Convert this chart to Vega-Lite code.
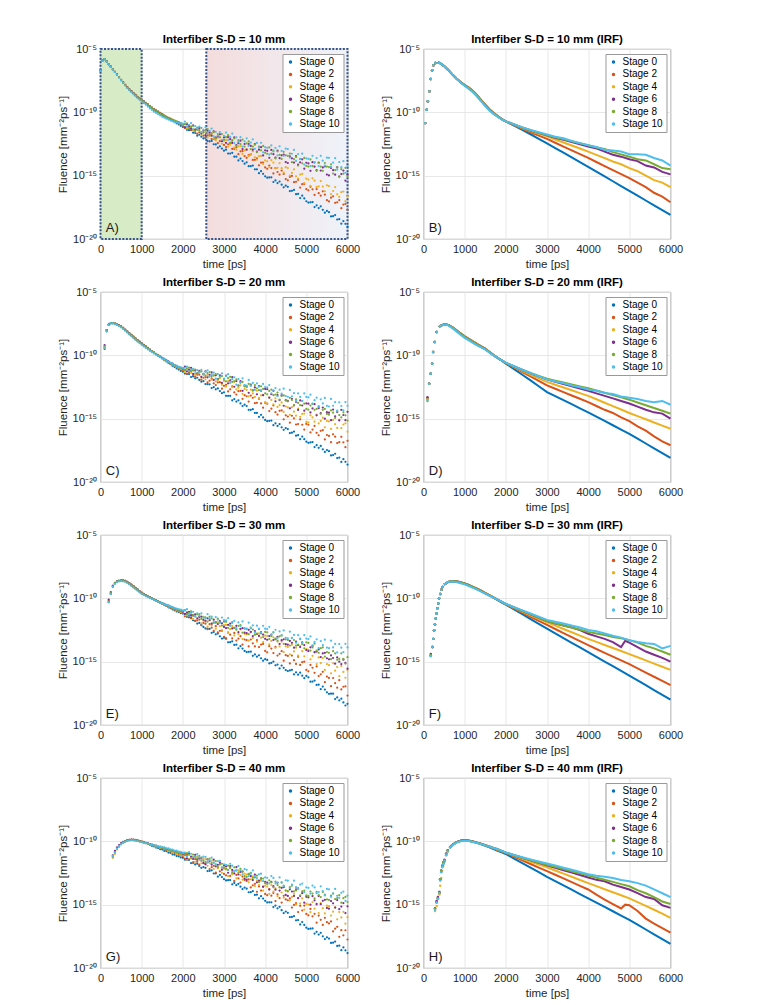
{
"$schema":"https://vega.github.io/schema/vega-lite/v6.json",
"padding":{"left":56.5,"top":33,"right":5,"bottom":5},
"config":{
"font":"Liberation Sans",
"view":{"stroke":"#8a8a8a","strokeWidth":0.8},
"axis":{"domain":false,"ticks":false,"gridColor":"#e2e2e2","gridWidth":0.8,"labelFontSize":11,"labelColor":"#262626","labelPadding":4,"titleFontSize":11.5,"titleFontWeight":"normal","titleColor":"#262626","labelFlush":false,"titlePadding":4},
"title":{"fontSize":11.5,"fontWeight":"bold","color":"#000000","offset":-2.3,"anchor":"middle","frame":"group"},
"legend":{"orient":"top-right","offset":4.5,"padding":3,"rowPadding":2.4,"symbolType":"circle","symbolSize":12,"symbolOffset":0,"labelOffset":4,"labelFontSize":10,"labelColor":"#000000","strokeColor":"#999999","fillColor":"#ffffff","symbolStrokeWidth":0}
},
"datasets":{
"A":[
{"t":0,"s00":-6.7,"s02":-6.72,"s04":-6.7,"s06":-6.68,"s08":-6.7,"s10":-6.72},
{"t":50,"s00":-5.9,"s02":-5.92,"s04":-5.9,"s06":-5.88,"s08":-5.9,"s10":-5.92},
{"t":100,"s00":-5.8,"s02":-5.81,"s04":-5.8,"s06":-5.79,"s08":-5.8,"s10":-5.81},
{"t":150,"s00":-5.98,"s02":-5.98,"s04":-5.99,"s06":-5.98,"s08":-5.98,"s10":-6.0},
{"t":200,"s00":-6.2,"s02":-6.2,"s04":-6.2,"s06":-6.21,"s08":-6.2,"s10":-6.22},
{"t":250,"s00":-6.4,"s02":-6.4,"s04":-6.41,"s06":-6.4,"s08":-6.41,"s10":-6.42},
{"t":300,"s00":-6.6,"s02":-6.6,"s04":-6.6,"s06":-6.61,"s08":-6.61,"s10":-6.63},
{"t":350,"s00":-6.8,"s02":-6.8,"s04":-6.8,"s06":-6.81,"s08":-6.81,"s10":-6.83},
{"t":400,"s00":-7.0,"s02":-7.0,"s04":-7.0,"s06":-7.01,"s08":-7.02,"s10":-7.04},
{"t":450,"s00":-7.22,"s02":-7.22,"s04":-7.22,"s06":-7.23,"s08":-7.24,"s10":-7.26},
{"t":500,"s00":-7.44,"s02":-7.44,"s04":-7.45,"s06":-7.45,"s08":-7.46,"s10":-7.48},
{"t":550,"s00":-7.64,"s02":-7.64,"s04":-7.65,"s06":-7.65,"s08":-7.66,"s10":-7.69},
{"t":600,"s00":-7.84,"s02":-7.84,"s04":-7.85,"s06":-7.85,"s08":-7.86,"s10":-7.89},
{"t":650,"s00":-8.02,"s02":-8.02,"s04":-8.03,"s06":-8.03,"s08":-8.04,"s10":-8.08},
{"t":700,"s00":-8.18,"s02":-8.18,"s04":-8.2,"s06":-8.2,"s08":-8.21,"s10":-8.25},
{"t":750,"s00":-8.33,"s02":-8.33,"s04":-8.35,"s06":-8.35,"s08":-8.36,"s10":-8.41},
{"t":800,"s00":-8.48,"s02":-8.48,"s04":-8.5,"s06":-8.5,"s08":-8.51,"s10":-8.57},
{"t":850,"s00":-8.63,"s02":-8.63,"s04":-8.65,"s06":-8.65,"s08":-8.66,"s10":-8.72},
{"t":900,"s00":-8.77,"s02":-8.77,"s04":-8.79,"s06":-8.8,"s08":-8.8,"s10":-8.87},
{"t":950,"s00":-8.89,"s02":-8.89,"s04":-8.92,"s06":-8.93,"s08":-8.93,"s10":-9.01},
{"t":1000,"s00":-9.0,"s02":-9.0,"s04":-9.05,"s06":-9.05,"s08":-9.05,"s10":-9.15},
{"t":1050,"s00":-9.12,"s02":-9.13,"s04":-9.17,"s06":-9.17,"s08":-9.18,"s10":-9.28},
{"t":1100,"s00":-9.25,"s02":-9.25,"s04":-9.3,"s06":-9.3,"s08":-9.3,"s10":-9.4},
{"t":1150,"s00":-9.37,"s02":-9.38,"s04":-9.42,"s06":-9.43,"s08":-9.42,"s10":-9.55},
{"t":1200,"s00":-9.5,"s02":-9.5,"s04":-9.55,"s06":-9.55,"s08":-9.55,"s10":-9.7},
{"t":1250,"s00":-9.62,"s02":-9.63,"s04":-9.67,"s06":-9.68,"s08":-9.67,"s10":-9.82},
{"t":1300,"s00":-9.75,"s02":-9.75,"s04":-9.8,"s06":-9.8,"s08":-9.8,"s10":-9.95},
{"t":1350,"s00":-9.85,"s02":-9.86,"s04":-9.9,"s06":-9.9,"s08":-9.91,"s10":-10.05},
{"t":1400,"s00":-9.95,"s02":-9.95,"s04":-10.0,"s06":-10.0,"s08":-10.0,"s10":-10.15},
{"t":1450,"s00":-10.05,"s02":-10.06,"s04":-10.1,"s06":-10.1,"s08":-10.1,"s10":-10.25},
{"t":1500,"s00":-10.15,"s02":-10.15,"s04":-10.2,"s06":-10.2,"s08":-10.2,"s10":-10.35},
{"t":1550,"s00":-10.25,"s02":-10.25,"s04":-10.28,"s06":-10.3,"s08":-10.3,"s10":-10.42},
{"t":1600,"s00":-10.35,"s02":-10.35,"s04":-10.35,"s06":-10.4,"s08":-10.4,"s10":-10.5},
{"t":1650,"s00":-10.45,"s02":-10.43,"s04":-10.43,"s06":-10.48,"s08":-10.47,"s10":-10.57},
{"t":1700,"s00":-10.55,"s02":-10.5,"s04":-10.5,"s06":-10.55,"s08":-10.55,"s10":-10.65},
{"t":1750,"s00":-10.66,"s02":-10.6,"s04":-10.58,"s06":-10.62,"s08":-10.6,"s10":-10.7},
{"t":1800,"s00":-10.77,"s02":-10.7,"s04":-10.65,"s06":-10.7,"s08":-10.65,"s10":-10.75},
{"t":1850,"s00":-10.87,"s02":-10.78,"s04":-10.73,"s06":-10.75,"s08":-10.72,"s10":-10.8},
{"t":1900,"s00":-10.96,"s02":-10.87,"s04":-10.82,"s06":-10.8,"s08":-10.8,"s10":-10.85},
{"t":1950,"s00":-11.06,"s02":-10.96,"s04":-10.91,"s06":-10.88,"s08":-10.87,"s10":-10.88},
{"t":2000,"s00":-11.15,"s02":-11.05,"s04":-11.0,"s06":-10.95,"s08":-10.95,"s10":-10.9},
{"t":2050,"s00":-11.18,"s02":-11.24,"s04":-10.95,"s06":-11.19,"s08":-10.94,"s10":-10.74},
{"t":2100,"s00":-11.38,"s02":-11.13,"s04":-11.28,"s06":-10.94,"s08":-10.87,"s10":-11.12},
{"t":2150,"s00":-11.41,"s02":-11.11,"s04":-11.2,"s06":-11.06,"s08":-11.25,"s10":-10.99},
{"t":2200,"s00":-11.4,"s02":-11.39,"s04":-11.08,"s06":-11.26,"s08":-11.15,"s10":-10.86},
{"t":2250,"s00":-11.61,"s02":-11.4,"s04":-11.39,"s06":-11.02,"s08":-11.08,"s10":-11.33},
{"t":2300,"s00":-11.63,"s02":-11.35,"s04":-11.51,"s06":-11.4,"s08":-11.46,"s10":-11.08},
{"t":2350,"s00":-11.84,"s02":-11.69,"s04":-11.37,"s06":-11.34,"s08":-11.21,"s10":-11.31},
{"t":2400,"s00":-11.77,"s02":-11.58,"s04":-11.37,"s06":-11.24,"s08":-11.41,"s10":-11.12},
{"t":2450,"s00":-11.92,"s02":-11.59,"s04":-11.77,"s06":-11.66,"s08":-11.22,"s10":-11.59},
{"t":2500,"s00":-12.06,"s02":-11.84,"s04":-11.62,"s06":-11.44,"s08":-11.57,"s10":-11.37},
{"t":2550,"s00":-12.02,"s02":-11.98,"s04":-11.56,"s06":-11.8,"s08":-11.43,"s10":-11.17},
{"t":2600,"s00":-12.27,"s02":-11.81,"s04":-11.98,"s06":-11.45,"s08":-11.32,"s10":-11.66},
{"t":2650,"s00":-12.29,"s02":-11.76,"s04":-11.85,"s06":-11.59,"s08":-11.82,"s10":-11.47},
{"t":2700,"s00":-12.26,"s02":-12.11,"s04":-11.67,"s06":-11.84,"s08":-11.67,"s10":-11.28},
{"t":2750,"s00":-12.52,"s02":-12.1,"s04":-12.06,"s06":-11.5,"s08":-11.57,"s10":-11.89},
{"t":2800,"s00":-12.53,"s02":-12.01,"s04":-12.2,"s06":-11.99,"s08":-12.06,"s10":-11.54},
{"t":2850,"s00":-12.79,"s02":-12.44,"s04":-11.99,"s06":-11.89,"s08":-11.72,"s10":-11.83},
{"t":2900,"s00":-12.68,"s02":-12.27,"s04":-11.97,"s06":-11.74,"s08":-11.97,"s10":-11.56},
{"t":2950,"s00":-12.86,"s02":-12.26,"s04":-12.48,"s06":-12.28,"s08":-11.71,"s10":-12.17},
{"t":3000,"s00":-13.03,"s02":-12.57,"s04":-12.26,"s06":-11.97,"s08":-12.16,"s10":-11.86},
{"t":3050,"s00":-12.95,"s02":-12.74,"s04":-12.18,"s06":-12.41,"s08":-11.95,"s10":-11.6},
{"t":3100,"s00":-13.25,"s02":-12.52,"s04":-12.7,"s06":-11.96,"s08":-11.8,"s10":-12.19},
{"t":3150,"s00":-13.25,"s02":-12.46,"s04":-12.53,"s06":-12.12,"s08":-12.4,"s10":-11.94},
{"t":3200,"s00":-13.2,"s02":-12.89,"s04":-12.3,"s06":-12.42,"s08":-12.2,"s10":-11.68},
{"t":3250,"s00":-13.5,"s02":-12.88,"s04":-12.78,"s06":-11.98,"s08":-12.05,"s10":-12.43},
{"t":3300,"s00":-13.5,"s02":-12.76,"s04":-12.95,"s06":-12.58,"s08":-12.65,"s10":-11.97},
{"t":3350,"s00":-13.8,"s02":-13.3,"s04":-12.68,"s06":-12.44,"s08":-12.2,"s10":-12.32},
{"t":3400,"s00":-13.65,"s02":-13.08,"s04":-12.65,"s06":-12.24,"s08":-12.5,"s10":-11.96},
{"t":3450,"s00":-13.85,"s02":-13.07,"s04":-13.28,"s06":-12.9,"s08":-12.15,"s10":-12.71},
{"t":3500,"s00":-14.05,"s02":-13.45,"s04":-13.0,"s06":-12.5,"s08":-12.7,"s10":-12.3},
{"t":3550,"s00":-13.95,"s02":-13.59,"s04":-12.93,"s06":-12.95,"s08":-12.45,"s10":-12.05},
{"t":3600,"s00":-14.25,"s02":-13.38,"s04":-13.46,"s06":-12.5,"s08":-12.3,"s10":-12.64},
{"t":3650,"s00":-14.25,"s02":-13.32,"s04":-13.29,"s06":-12.65,"s08":-12.9,"s10":-12.39},
{"t":3700,"s00":-14.2,"s02":-13.76,"s04":-13.07,"s06":-12.95,"s08":-12.7,"s10":-12.13},
{"t":3750,"s00":-14.5,"s02":-13.75,"s04":-13.55,"s06":-12.5,"s08":-12.55,"s10":-12.88},
{"t":3800,"s00":-14.5,"s02":-13.64,"s04":-13.73,"s06":-13.1,"s08":-13.15,"s10":-12.42},
{"t":3850,"s00":-14.8,"s02":-14.18,"s04":-13.46,"s06":-12.95,"s08":-12.7,"s10":-12.77},
{"t":3900,"s00":-14.65,"s02":-13.97,"s04":-13.44,"s06":-12.75,"s08":-13.0,"s10":-12.41},
{"t":3950,"s00":-14.85,"s02":-13.96,"s04":-14.07,"s06":-13.4,"s08":-12.65,"s10":-13.16},
{"t":4000,"s00":-15.05,"s02":-14.35,"s04":-13.8,"s06":-13.0,"s08":-13.2,"s10":-12.75},
{"t":4050,"s00":-15.16,"s02":-14.46,"s04":-13.87,"s06":-13.04,"s08":-13.27,"s10":-12.8},
{"t":4100,"s00":-15.14,"s02":-14.2,"s04":-14.32,"s06":-13.59,"s08":-12.77,"s10":-13.33},
{"t":4150,"s00":-15.13,"s02":-14.4,"s04":-13.78,"s06":-12.97,"s08":-13.26,"s10":-12.61},
{"t":4200,"s00":-15.5,"s02":-14.82,"s04":-13.97,"s06":-13.3,"s08":-13.03,"s10":-13.09},
{"t":4250,"s00":-15.38,"s02":-14.41,"s04":-14.42,"s06":-13.57,"s08":-13.64,"s10":-12.81},
{"t":4300,"s00":-15.58,"s02":-14.71,"s04":-14.38,"s06":-13.02,"s08":-13.08,"s10":-13.4},
{"t":4350,"s00":-15.46,"s02":-14.91,"s04":-14.01,"s06":-13.62,"s08":-13.35,"s10":-12.68},
{"t":4400,"s00":-15.71,"s02":-14.6,"s04":-14.41,"s06":-13.39,"s08":-13.68,"s10":-13.05},
{"t":4450,"s00":-15.92,"s02":-14.86,"s04":-14.76,"s06":-13.33,"s08":-13.12,"s10":-13.43},
{"t":4500,"s00":-15.79,"s02":-15.27,"s04":-14.33,"s06":-13.93,"s08":-13.39,"s10":-12.87},
{"t":4550,"s00":-15.88,"s02":-15.37,"s04":-14.4,"s06":-14.0,"s08":-13.43,"s10":-12.9},
{"t":4600,"s00":-16.22,"s02":-15.1,"s04":-14.99,"s06":-13.47,"s08":-13.25,"s10":-13.57},
{"t":4650,"s00":-16.2,"s02":-15.02,"s04":-14.78,"s06":-13.63,"s08":-13.94,"s10":-13.27},
{"t":4700,"s00":-16.13,"s02":-15.51,"s04":-14.5,"s06":-13.97,"s08":-13.7,"s10":-12.97},
{"t":4750,"s00":-16.46,"s02":-15.48,"s04":-15.05,"s06":-13.45,"s08":-13.52,"s10":-13.83},
{"t":4800,"s00":-16.44,"s02":-15.33,"s04":-15.23,"s06":-14.13,"s08":-14.2,"s10":-13.29},
{"t":4850,"s00":-16.77,"s02":-15.94,"s04":-14.91,"s06":-13.95,"s08":-13.68,"s10":-13.69},
{"t":4900,"s00":-16.58,"s02":-15.67,"s04":-14.86,"s06":-13.71,"s08":-14.02,"s10":-13.26},
{"t":4950,"s00":-16.8,"s02":-15.65,"s04":-15.58,"s06":-14.45,"s08":-13.6,"s10":-14.12},
{"t":5000,"s00":-17.02,"s02":-16.07,"s04":-15.24,"s06":-13.98,"s08":-14.23,"s10":-13.64},
{"t":5050,"s00":-17.12,"s02":-16.16,"s04":-15.31,"s06":-14.03,"s08":-14.28,"s10":-13.67},
{"t":5100,"s00":-17.1,"s02":-15.88,"s04":-15.8,"s06":-14.62,"s08":-13.72,"s10":-14.24},
{"t":5150,"s00":-17.08,"s02":-16.08,"s04":-15.21,"s06":-13.94,"s08":-14.24,"s10":-13.43},
{"t":5200,"s00":-17.48,"s02":-16.52,"s04":-15.4,"s06":-14.29,"s08":-13.98,"s10":-13.94},
{"t":5250,"s00":-17.34,"s02":-16.06,"s04":-15.89,"s06":-14.57,"s08":-14.62,"s10":-13.61},
{"t":5300,"s00":-17.56,"s02":-16.38,"s04":-15.84,"s06":-13.96,"s08":-14.0,"s10":-14.24},
{"t":5350,"s00":-17.42,"s02":-16.58,"s04":-15.43,"s06":-14.6,"s08":-14.28,"s10":-13.43},
{"t":5400,"s00":-17.7,"s02":-16.24,"s04":-15.86,"s06":-14.35,"s08":-14.62,"s10":-13.82},
{"t":5450,"s00":-17.92,"s02":-16.5,"s04":-16.23,"s06":-14.27,"s08":-14.0,"s10":-14.21},
{"t":5500,"s00":-17.78,"s02":-16.94,"s04":-15.76,"s06":-14.91,"s08":-14.28,"s10":-13.58},
{"t":5550,"s00":-17.88,"s02":-17.03,"s04":-15.82,"s06":-14.98,"s08":-14.32,"s10":-13.59},
{"t":5600,"s00":-18.22,"s02":-16.74,"s04":-16.45,"s06":-14.39,"s08":-14.1,"s10":-14.31},
{"t":5650,"s00":-18.2,"s02":-16.63,"s04":-16.21,"s06":-14.57,"s08":-14.83,"s10":-13.97},
{"t":5700,"s00":-18.11,"s02":-17.14,"s04":-15.9,"s06":-14.92,"s08":-14.56,"s10":-13.62},
{"t":5750,"s00":-18.46,"s02":-17.1,"s04":-16.47,"s06":-14.34,"s08":-14.35,"s10":-14.53},
{"t":5800,"s00":-18.44,"s02":-16.93,"s04":-16.67,"s06":-15.07,"s08":-15.08,"s10":-13.93},
{"t":5850,"s00":-18.79,"s02":-17.57,"s04":-16.3,"s06":-14.87,"s08":-14.49,"s10":-14.33},
{"t":5900,"s00":-18.58,"s02":-17.28,"s04":-16.25,"s06":-14.6,"s08":-14.84,"s10":-13.86},
{"t":5950,"s00":-18.8,"s02":-17.23,"s04":-17.01,"s06":-15.4,"s08":-14.38,"s10":-14.77},
{"t":6000,"s00":-19.02,"s02":-17.69,"s04":-16.64,"s06":-14.88,"s08":-15.05,"s10":-14.24}
],
"C":[
{"t":100,"s00":-9.5,"s02":-9.4,"s04":-9.4,"s06":-9.2,"s08":-9.3,"s10":-9.4},
{"t":150,"s00":-8.1,"s02":-8.0,"s04":-8.0,"s06":-8.0,"s08":-8.0,"s10":-8.1},
{"t":200,"s00":-7.6,"s02":-7.6,"s04":-7.6,"s06":-7.55,"s08":-7.6,"s10":-7.6},
{"t":250,"s00":-7.47,"s02":-7.46,"s04":-7.46,"s06":-7.45,"s08":-7.46,"s10":-7.48},
{"t":300,"s00":-7.46,"s02":-7.45,"s04":-7.45,"s06":-7.45,"s08":-7.45,"s10":-7.48},
{"t":350,"s00":-7.5,"s02":-7.5,"s04":-7.5,"s06":-7.5,"s08":-7.5,"s10":-7.53},
{"t":400,"s00":-7.55,"s02":-7.55,"s04":-7.55,"s06":-7.55,"s08":-7.56,"s10":-7.6},
{"t":450,"s00":-7.63,"s02":-7.63,"s04":-7.64,"s06":-7.64,"s08":-7.65,"s10":-7.7},
{"t":500,"s00":-7.72,"s02":-7.72,"s04":-7.73,"s06":-7.74,"s08":-7.75,"s10":-7.8},
{"t":550,"s00":-7.84,"s02":-7.84,"s04":-7.85,"s06":-7.87,"s08":-7.87,"s10":-7.93},
{"t":600,"s00":-7.96,"s02":-7.96,"s04":-7.98,"s06":-8.0,"s08":-8.0,"s10":-8.06},
{"t":650,"s00":-8.1,"s02":-8.1,"s04":-8.12,"s06":-8.14,"s08":-8.15,"s10":-8.21},
{"t":700,"s00":-8.25,"s02":-8.25,"s04":-8.27,"s06":-8.28,"s08":-8.3,"s10":-8.36},
{"t":750,"s00":-8.38,"s02":-8.38,"s04":-8.4,"s06":-8.42,"s08":-8.43,"s10":-8.5},
{"t":800,"s00":-8.52,"s02":-8.52,"s04":-8.54,"s06":-8.56,"s08":-8.57,"s10":-8.64},
{"t":850,"s00":-8.66,"s02":-8.66,"s04":-8.68,"s06":-8.7,"s08":-8.71,"s10":-8.78},
{"t":900,"s00":-8.8,"s02":-8.8,"s04":-8.82,"s06":-8.83,"s08":-8.85,"s10":-8.92},
{"t":950,"s00":-8.92,"s02":-8.92,"s04":-8.94,"s06":-8.96,"s08":-8.97,"s10":-9.04},
{"t":1000,"s00":-9.05,"s02":-9.05,"s04":-9.07,"s06":-9.08,"s08":-9.1,"s10":-9.17},
{"t":1050,"s00":-9.17,"s02":-9.17,"s04":-9.19,"s06":-9.2,"s08":-9.22,"s10":-9.3},
{"t":1100,"s00":-9.3,"s02":-9.3,"s04":-9.32,"s06":-9.33,"s08":-9.35,"s10":-9.42},
{"t":1150,"s00":-9.42,"s02":-9.42,"s04":-9.44,"s06":-9.45,"s08":-9.46,"s10":-9.54},
{"t":1200,"s00":-9.55,"s02":-9.55,"s04":-9.56,"s06":-9.57,"s08":-9.58,"s10":-9.65},
{"t":1250,"s00":-9.66,"s02":-9.66,"s04":-9.67,"s06":-9.68,"s08":-9.69,"s10":-9.75},
{"t":1300,"s00":-9.78,"s02":-9.78,"s04":-9.79,"s06":-9.79,"s08":-9.8,"s10":-9.86},
{"t":1350,"s00":-9.9,"s02":-9.89,"s04":-9.9,"s06":-9.9,"s08":-9.9,"s10":-9.96},
{"t":1400,"s00":-10.02,"s02":-10.0,"s04":-10.0,"s06":-10.0,"s08":-10.01,"s10":-10.06},
{"t":1450,"s00":-10.14,"s02":-10.11,"s04":-10.11,"s06":-10.1,"s08":-10.1,"s10":-10.15},
{"t":1500,"s00":-10.25,"s02":-10.22,"s04":-10.22,"s06":-10.2,"s08":-10.21,"s10":-10.25},
{"t":1550,"s00":-10.38,"s02":-10.31,"s04":-10.34,"s06":-10.28,"s08":-10.32,"s10":-10.3},
{"t":1600,"s00":-10.48,"s02":-10.44,"s04":-10.42,"s06":-10.4,"s08":-10.4,"s10":-10.44},
{"t":1650,"s00":-10.6,"s02":-10.52,"s04":-10.54,"s06":-10.47,"s08":-10.53,"s10":-10.5},
{"t":1700,"s00":-10.7,"s02":-10.65,"s04":-10.62,"s06":-10.6,"s08":-10.6,"s10":-10.62},
{"t":1750,"s00":-10.83,"s02":-10.73,"s04":-10.74,"s06":-10.66,"s08":-10.72,"s10":-10.66},
{"t":1800,"s00":-10.92,"s02":-10.85,"s04":-10.82,"s06":-10.78,"s08":-10.77,"s10":-10.79},
{"t":1850,"s00":-11.04,"s02":-10.92,"s04":-10.93,"s06":-10.84,"s08":-10.9,"s10":-10.83},
{"t":1900,"s00":-11.12,"s02":-11.04,"s04":-10.98,"s06":-10.94,"s08":-10.92,"s10":-10.94},
{"t":1950,"s00":-11.23,"s02":-11.1,"s04":-11.07,"s06":-10.98,"s08":-11.0,"s10":-10.95},
{"t":2000,"s00":-11.3,"s02":-11.2,"s04":-11.1,"s06":-11.05,"s08":-11.0,"s10":-11.0},
{"t":2050,"s00":-11.44,"s02":-11.14,"s04":-11.33,"s06":-10.89,"s08":-11.16,"s10":-10.98},
{"t":2100,"s00":-11.46,"s02":-11.47,"s04":-11.08,"s06":-11.26,"s08":-11.02,"s10":-10.89},
{"t":2150,"s00":-11.48,"s02":-11.38,"s04":-11.19,"s06":-11.13,"s08":-10.97,"s10":-11.26},
{"t":2200,"s00":-11.71,"s02":-11.26,"s04":-11.39,"s06":-10.99,"s08":-11.22,"s10":-11.14},
{"t":2250,"s00":-11.67,"s02":-11.56,"s04":-11.14,"s06":-11.46,"s08":-11.2,"s10":-11.06},
{"t":2300,"s00":-11.81,"s02":-11.68,"s04":-11.52,"s06":-11.2,"s08":-11.12,"s10":-11.42},
{"t":2350,"s00":-11.77,"s02":-11.53,"s04":-11.45,"s06":-11.43,"s08":-11.43,"s10":-11.16},
{"t":2400,"s00":-11.94,"s02":-11.53,"s04":-11.35,"s06":-11.23,"s08":-11.29,"s10":-11.34},
{"t":2450,"s00":-12.08,"s02":-11.92,"s04":-11.76,"s06":-11.7,"s08":-11.27,"s10":-11.14},
{"t":2500,"s00":-12.04,"s02":-11.77,"s04":-11.54,"s06":-11.47,"s08":-11.49,"s10":-11.47},
{"t":2550,"s00":-12.27,"s02":-11.71,"s04":-11.89,"s06":-11.26,"s08":-11.6,"s10":-11.31},
{"t":2600,"s00":-12.28,"s02":-12.13,"s04":-11.54,"s06":-11.74,"s08":-11.4,"s10":-11.18},
{"t":2650,"s00":-12.29,"s02":-12.0,"s04":-11.67,"s06":-11.54,"s08":-11.32,"s10":-11.66},
{"t":2700,"s00":-12.58,"s02":-11.82,"s04":-11.92,"s06":-11.34,"s08":-11.64,"s10":-11.49},
{"t":2750,"s00":-12.51,"s02":-12.21,"s04":-11.57,"s06":-11.94,"s08":-11.6,"s10":-11.37},
{"t":2800,"s00":-12.68,"s02":-12.35,"s04":-12.06,"s06":-11.58,"s08":-11.48,"s10":-11.84},
{"t":2850,"s00":-12.61,"s02":-12.14,"s04":-11.95,"s06":-11.86,"s08":-11.88,"s10":-11.48},
{"t":2900,"s00":-12.82,"s02":-12.12,"s04":-11.8,"s06":-11.58,"s08":-11.68,"s10":-11.71},
{"t":2950,"s00":-12.99,"s02":-12.63,"s04":-12.33,"s06":-12.18,"s08":-11.64,"s10":-11.43},
{"t":3000,"s00":-12.92,"s02":-12.41,"s04":-12.02,"s06":-11.86,"s08":-11.92,"s10":-11.86},
{"t":3050,"s00":-13.2,"s02":-12.33,"s04":-12.47,"s06":-11.61,"s08":-12.05,"s10":-11.65},
{"t":3100,"s00":-13.2,"s02":-12.85,"s04":-12.03,"s06":-12.21,"s08":-11.8,"s10":-11.49},
{"t":3150,"s00":-13.2,"s02":-12.68,"s04":-12.2,"s06":-11.97,"s08":-11.7,"s10":-12.09},
{"t":3200,"s00":-13.55,"s02":-12.45,"s04":-12.51,"s06":-11.72,"s08":-12.1,"s10":-11.88},
{"t":3250,"s00":-13.45,"s02":-12.93,"s04":-12.08,"s06":-12.48,"s08":-12.05,"s10":-11.73},
{"t":3300,"s00":-13.65,"s02":-13.1,"s04":-12.69,"s06":-12.03,"s08":-11.9,"s10":-12.32},
{"t":3350,"s00":-13.55,"s02":-12.83,"s04":-12.56,"s06":-12.39,"s08":-12.4,"s10":-11.87},
{"t":3400,"s00":-13.8,"s02":-12.8,"s04":-12.37,"s06":-12.04,"s08":-12.15,"s10":-12.16},
{"t":3450,"s00":-14.0,"s02":-13.43,"s04":-13.04,"s06":-12.8,"s08":-12.1,"s10":-11.81},
{"t":3500,"s00":-13.9,"s02":-13.15,"s04":-12.65,"s06":-12.4,"s08":-12.45,"s10":-12.35},
{"t":3550,"s00":-14.0,"s02":-13.23,"s04":-12.72,"s06":-12.46,"s08":-12.5,"s10":-12.4},
{"t":3600,"s00":-14.3,"s02":-13.65,"s04":-13.23,"s06":-12.96,"s08":-12.25,"s10":-11.94},
{"t":3650,"s00":-14.3,"s02":-13.18,"s04":-12.7,"s06":-12.32,"s08":-12.4,"s10":-12.39},
{"t":3700,"s00":-14.25,"s02":-13.35,"s04":-13.01,"s06":-12.77,"s08":-12.75,"s10":-12.18},
{"t":3750,"s00":-14.55,"s02":-13.78,"s04":-13.28,"s06":-12.53,"s08":-12.35,"s10":-12.73},
{"t":3800,"s00":-14.55,"s02":-13.75,"s04":-12.79,"s06":-13.08,"s08":-12.6,"s10":-12.22},
{"t":3850,"s00":-14.85,"s02":-13.43,"s04":-13.36,"s06":-12.44,"s08":-12.75,"s10":-12.47},
{"t":3900,"s00":-14.7,"s02":-13.8,"s04":-13.17,"s06":-12.79,"s08":-12.45,"s10":-12.76},
{"t":3950,"s00":-14.9,"s02":-14.13,"s04":-13.14,"s06":-13.15,"s08":-12.65,"s10":-12.26},
{"t":4000,"s00":-15.1,"s02":-13.75,"s04":-13.7,"s06":-12.65,"s08":-13.0,"s10":-12.5},
{"t":4050,"s00":-15.2,"s02":-13.82,"s04":-13.81,"s06":-12.67,"s08":-13.08,"s10":-12.53},
{"t":4100,"s00":-15.17,"s02":-14.4,"s04":-13.33,"s06":-13.34,"s08":-12.81,"s10":-12.35},
{"t":4150,"s00":-15.15,"s02":-14.21,"s04":-13.52,"s06":-13.07,"s08":-12.7,"s10":-13.0},
{"t":4200,"s00":-15.51,"s02":-13.96,"s04":-13.87,"s06":-12.8,"s08":-13.15,"s10":-12.76},
{"t":4250,"s00":-15.37,"s02":-14.49,"s04":-13.39,"s06":-13.63,"s08":-13.1,"s10":-12.58},
{"t":4300,"s00":-15.57,"s02":-14.68,"s04":-14.07,"s06":-13.14,"s08":-12.94,"s10":-13.23},
{"t":4350,"s00":-15.43,"s02":-14.38,"s04":-13.93,"s06":-13.53,"s08":-13.5,"s10":-12.71},
{"t":4400,"s00":-15.68,"s02":-14.35,"s04":-13.72,"s06":-13.15,"s08":-13.22,"s10":-13.03},
{"t":4450,"s00":-15.88,"s02":-15.05,"s04":-14.47,"s06":-13.98,"s08":-13.17,"s10":-12.63},
{"t":4500,"s00":-15.74,"s02":-14.74,"s04":-14.04,"s06":-13.54,"s08":-13.57,"s10":-13.22},
{"t":4550,"s00":-15.82,"s02":-14.83,"s04":-14.11,"s06":-13.6,"s08":-13.63,"s10":-13.27},
{"t":4600,"s00":-16.14,"s02":-15.32,"s04":-14.7,"s06":-14.18,"s08":-13.35,"s10":-12.73},
{"t":4650,"s00":-16.11,"s02":-14.77,"s04":-14.09,"s06":-13.43,"s08":-13.52,"s10":-13.24},
{"t":4700,"s00":-16.02,"s02":-14.97,"s04":-14.45,"s06":-13.96,"s08":-13.93,"s10":-12.99},
{"t":4750,"s00":-16.34,"s02":-15.46,"s04":-14.76,"s06":-13.67,"s08":-13.47,"s10":-13.6},
{"t":4800,"s00":-16.3,"s02":-15.43,"s04":-14.2,"s06":-14.31,"s08":-13.76,"s10":-13.01},
{"t":4850,"s00":-16.62,"s02":-15.05,"s04":-14.85,"s06":-13.56,"s08":-13.94,"s10":-13.28},
{"t":4900,"s00":-16.41,"s02":-15.48,"s04":-14.63,"s06":-13.96,"s08":-13.59,"s10":-13.61},
{"t":4950,"s00":-16.62,"s02":-15.86,"s04":-14.6,"s06":-14.37,"s08":-13.82,"s10":-13.01},
{"t":5000,"s00":-16.82,"s02":-15.42,"s04":-15.25,"s06":-13.8,"s08":-14.23,"s10":-13.28},
{"t":5050,"s00":-16.91,"s02":-15.48,"s04":-15.3,"s06":-13.82,"s08":-14.29,"s10":-13.32},
{"t":5100,"s00":-16.88,"s02":-16.09,"s04":-14.74,"s06":-14.51,"s08":-13.97,"s10":-13.11},
{"t":5150,"s00":-16.85,"s02":-15.86,"s04":-14.9,"s06":-14.19,"s08":-13.84,"s10":-13.81},
{"t":5200,"s00":-17.24,"s02":-15.57,"s04":-15.24,"s06":-13.86,"s08":-14.3,"s10":-13.54},
{"t":5250,"s00":-17.09,"s02":-16.12,"s04":-14.68,"s06":-14.74,"s08":-14.23,"s10":-13.34},
{"t":5300,"s00":-17.3,"s02":-16.31,"s04":-15.38,"s06":-14.17,"s08":-14.03,"s10":-14.03},
{"t":5350,"s00":-17.15,"s02":-15.96,"s04":-15.18,"s06":-14.57,"s08":-14.62,"s10":-13.47},
{"t":5400,"s00":-17.42,"s02":-15.91,"s04":-14.92,"s06":-14.12,"s08":-14.3,"s10":-13.8},
{"t":5450,"s00":-17.63,"s02":-16.64,"s04":-15.68,"s06":-15.0,"s08":-14.23,"s10":-13.36},
{"t":5500,"s00":-17.48,"s02":-16.29,"s04":-15.18,"s06":-14.49,"s08":-14.63,"s10":-13.99},
{"t":5550,"s00":-17.57,"s02":-16.36,"s04":-15.22,"s06":-14.53,"s08":-14.69,"s10":-14.04},
{"t":5600,"s00":-17.9,"s02":-16.86,"s04":-15.81,"s06":-15.12,"s08":-14.35,"s10":-13.44},
{"t":5650,"s00":-17.87,"s02":-16.24,"s04":-15.1,"s06":-14.28,"s08":-14.53,"s10":-13.98},
{"t":5700,"s00":-17.77,"s02":-16.42,"s04":-15.44,"s06":-14.81,"s08":-14.94,"s10":-13.7},
{"t":5750,"s00":-18.11,"s02":-16.93,"s04":-15.73,"s06":-14.48,"s08":-14.43,"s10":-14.37},
{"t":5800,"s00":-18.08,"s02":-16.86,"s04":-15.07,"s06":-15.14,"s08":-14.72,"s10":-13.71},
{"t":5850,"s00":-18.42,"s02":-16.43,"s04":-15.74,"s06":-14.3,"s08":-14.89,"s10":-14.0},
{"t":5900,"s00":-18.2,"s02":-16.87,"s04":-15.46,"s06":-14.71,"s08":-14.5,"s10":-14.34},
{"t":5950,"s00":-18.41,"s02":-17.25,"s04":-15.37,"s06":-15.12,"s08":-14.74,"s10":-13.69},
{"t":6000,"s00":-18.62,"s02":-16.75,"s04":-16.03,"s06":-14.46,"s08":-15.15,"s10":-13.98}
],
"E":[
{"t":200,"s00":-10.3,"s02":-10.2,"s04":-10.3,"s06":-10.1,"s08":-10.25,"s10":-10.3},
{"t":250,"s00":-9.65,"s02":-9.6,"s04":-9.6,"s06":-9.5,"s08":-9.6,"s10":-9.65},
{"t":300,"s00":-9.1,"s02":-9.05,"s04":-9.05,"s06":-9.0,"s08":-9.05,"s10":-9.1},
{"t":350,"s00":-8.82,"s02":-8.8,"s04":-8.8,"s06":-8.78,"s08":-8.8,"s10":-8.85},
{"t":400,"s00":-8.68,"s02":-8.68,"s04":-8.68,"s06":-8.66,"s08":-8.68,"s10":-8.72},
{"t":450,"s00":-8.62,"s02":-8.62,"s04":-8.63,"s06":-8.62,"s08":-8.63,"s10":-8.67},
{"t":500,"s00":-8.58,"s02":-8.58,"s04":-8.6,"s06":-8.6,"s08":-8.6,"s10":-8.64},
{"t":550,"s00":-8.59,"s02":-8.59,"s04":-8.61,"s06":-8.61,"s08":-8.62,"s10":-8.66},
{"t":600,"s00":-8.62,"s02":-8.62,"s04":-8.64,"s06":-8.65,"s08":-8.66,"s10":-8.7},
{"t":650,"s00":-8.7,"s02":-8.7,"s04":-8.72,"s06":-8.73,"s08":-8.74,"s10":-8.79},
{"t":700,"s00":-8.8,"s02":-8.8,"s04":-8.82,"s06":-8.84,"s08":-8.85,"s10":-8.9},
{"t":750,"s00":-8.92,"s02":-8.92,"s04":-8.94,"s06":-8.96,"s08":-8.97,"s10":-9.02},
{"t":800,"s00":-9.04,"s02":-9.04,"s04":-9.06,"s06":-9.08,"s08":-9.1,"s10":-9.15},
{"t":850,"s00":-9.17,"s02":-9.17,"s04":-9.19,"s06":-9.2,"s08":-9.22,"s10":-9.28},
{"t":900,"s00":-9.3,"s02":-9.3,"s04":-9.32,"s06":-9.33,"s08":-9.35,"s10":-9.4},
{"t":950,"s00":-9.43,"s02":-9.43,"s04":-9.45,"s06":-9.46,"s08":-9.48,"s10":-9.53},
{"t":1000,"s00":-9.55,"s02":-9.55,"s04":-9.57,"s06":-9.58,"s08":-9.6,"s10":-9.65},
{"t":1050,"s00":-9.65,"s02":-9.65,"s04":-9.67,"s06":-9.68,"s08":-9.69,"s10":-9.74},
{"t":1100,"s00":-9.75,"s02":-9.75,"s04":-9.76,"s06":-9.77,"s08":-9.78,"s10":-9.83},
{"t":1150,"s00":-9.84,"s02":-9.84,"s04":-9.85,"s06":-9.86,"s08":-9.87,"s10":-9.91},
{"t":1200,"s00":-9.93,"s02":-9.93,"s04":-9.94,"s06":-9.95,"s08":-9.95,"s10":-9.99},
{"t":1250,"s00":-10.02,"s02":-10.01,"s04":-10.02,"s06":-10.03,"s08":-10.03,"s10":-10.06},
{"t":1300,"s00":-10.1,"s02":-10.1,"s04":-10.1,"s06":-10.1,"s08":-10.1,"s10":-10.13},
{"t":1350,"s00":-10.18,"s02":-10.17,"s04":-10.18,"s06":-10.17,"s08":-10.17,"s10":-10.2},
{"t":1400,"s00":-10.26,"s02":-10.25,"s04":-10.25,"s06":-10.24,"s08":-10.24,"s10":-10.27},
{"t":1450,"s00":-10.35,"s02":-10.32,"s04":-10.33,"s06":-10.3,"s08":-10.3,"s10":-10.33},
{"t":1500,"s00":-10.43,"s02":-10.41,"s04":-10.4,"s06":-10.38,"s08":-10.37,"s10":-10.4},
{"t":1550,"s00":-10.53,"s02":-10.47,"s04":-10.5,"s06":-10.44,"s08":-10.46,"s10":-10.45},
{"t":1600,"s00":-10.6,"s02":-10.57,"s04":-10.55,"s06":-10.53,"s08":-10.51,"s10":-10.53},
{"t":1650,"s00":-10.71,"s02":-10.64,"s04":-10.65,"s06":-10.58,"s08":-10.6,"s10":-10.58},
{"t":1700,"s00":-10.78,"s02":-10.74,"s04":-10.7,"s06":-10.67,"s08":-10.65,"s10":-10.66},
{"t":1750,"s00":-10.88,"s02":-10.8,"s04":-10.8,"s06":-10.72,"s08":-10.74,"s10":-10.7},
{"t":1800,"s00":-10.95,"s02":-10.9,"s04":-10.85,"s06":-10.81,"s08":-10.79,"s10":-10.78},
{"t":1850,"s00":-11.03,"s02":-10.95,"s04":-10.94,"s06":-10.86,"s08":-10.87,"s10":-10.81},
{"t":1900,"s00":-11.08,"s02":-11.03,"s04":-10.98,"s06":-10.93,"s08":-10.9,"s10":-10.87},
{"t":1950,"s00":-11.16,"s02":-11.07,"s04":-11.06,"s06":-10.97,"s08":-10.97,"s10":-10.9},
{"t":2000,"s00":-11.2,"s02":-11.15,"s04":-11.1,"s06":-11.05,"s08":-11.0,"s10":-10.95},
{"t":2050,"s00":-11.24,"s02":-11.42,"s04":-10.96,"s06":-11.22,"s08":-10.93,"s10":-10.94},
{"t":2100,"s00":-11.46,"s02":-11.2,"s04":-11.36,"s06":-11.1,"s08":-11.25,"s10":-10.86},
{"t":2150,"s00":-11.5,"s02":-11.35,"s04":-11.25,"s06":-11.06,"s08":-11.15,"s10":-11.24},
{"t":2200,"s00":-11.51,"s02":-11.58,"s04":-11.14,"s06":-11.33,"s08":-11.02,"s10":-11.13},
{"t":2250,"s00":-11.73,"s02":-11.37,"s04":-11.63,"s06":-11.32,"s08":-11.31,"s10":-11.06},
{"t":2300,"s00":-11.77,"s02":-11.78,"s04":-11.4,"s06":-11.26,"s08":-11.42,"s10":-11.43},
{"t":2350,"s00":-11.99,"s02":-11.75,"s04":-11.65,"s06":-11.58,"s08":-11.26,"s10":-11.18},
{"t":2400,"s00":-11.94,"s02":-11.68,"s04":-11.48,"s06":-11.46,"s08":-11.25,"s10":-11.37},
{"t":2450,"s00":-12.1,"s02":-12.13,"s04":-11.97,"s06":-11.45,"s08":-11.63,"s10":-11.18},
{"t":2500,"s00":-12.26,"s02":-11.94,"s04":-11.77,"s06":-11.69,"s08":-11.47,"s10":-11.52},
{"t":2550,"s00":-12.38,"s02":-12.0,"s04":-11.82,"s06":-11.77,"s08":-11.51,"s10":-11.6},
{"t":2600,"s00":-12.4,"s02":-12.44,"s04":-12.24,"s06":-11.58,"s08":-11.84,"s10":-11.24},
{"t":2650,"s00":-12.42,"s02":-12.04,"s04":-11.74,"s06":-11.71,"s08":-11.45,"s10":-11.6},
{"t":2700,"s00":-12.72,"s02":-12.32,"s04":-12.12,"s06":-12.0,"s08":-11.58,"s10":-11.44},
{"t":2750,"s00":-12.66,"s02":-12.56,"s04":-11.94,"s06":-11.69,"s08":-11.91,"s10":-11.88},
{"t":2800,"s00":-12.84,"s02":-12.2,"s04":-12.4,"s06":-11.9,"s08":-11.88,"s10":-11.48},
{"t":2850,"s00":-12.78,"s02":-12.68,"s04":-11.9,"s06":-12.03,"s08":-11.61,"s10":-11.68},
{"t":2900,"s00":-13.0,"s02":-12.56,"s04":-12.2,"s06":-11.8,"s08":-11.9,"s10":-11.92},
{"t":2950,"s00":-13.18,"s02":-12.56,"s04":-12.5,"s06":-11.97,"s08":-12.15,"s10":-11.52},
{"t":3000,"s00":-13.12,"s02":-13.04,"s04":-12.12,"s06":-12.26,"s08":-11.84,"s10":-11.72},
{"t":3050,"s00":-13.19,"s02":-13.16,"s04":-12.1,"s06":-12.35,"s08":-11.85,"s10":-11.74},
{"t":3100,"s00":-13.47,"s02":-12.71,"s04":-12.69,"s06":-12.09,"s08":-12.34,"s10":-11.57},
{"t":3150,"s00":-13.46,"s02":-12.87,"s04":-12.44,"s06":-11.99,"s08":-12.14,"s10":-12.16},
{"t":3200,"s00":-13.39,"s02":-13.17,"s04":-12.18,"s06":-12.38,"s08":-11.88,"s10":-11.94},
{"t":3250,"s00":-13.68,"s02":-12.73,"s04":-12.93,"s06":-12.33,"s08":-12.33,"s10":-11.78},
{"t":3300,"s00":-13.66,"s02":-13.33,"s04":-12.47,"s06":-12.17,"s08":-12.47,"s10":-12.36},
{"t":3350,"s00":-13.95,"s02":-13.19,"s04":-12.82,"s06":-12.67,"s08":-12.17,"s10":-11.9},
{"t":3400,"s00":-13.78,"s02":-12.99,"s04":-12.46,"s06":-12.41,"s08":-12.11,"s10":-12.18},
{"t":3450,"s00":-13.97,"s02":-13.65,"s04":-13.21,"s06":-12.36,"s08":-12.71,"s10":-11.82},
{"t":3500,"s00":-14.15,"s02":-13.25,"s04":-12.8,"s06":-12.7,"s08":-12.4,"s10":-12.35},
{"t":3550,"s00":-14.24,"s02":-13.3,"s04":-12.85,"s06":-12.75,"s08":-12.44,"s10":-12.39},
{"t":3600,"s00":-14.22,"s02":-13.8,"s04":-13.34,"s06":-12.49,"s08":-12.83,"s10":-11.92},
{"t":3650,"s00":-14.21,"s02":-13.25,"s04":-12.69,"s06":-12.64,"s08":-12.32,"s10":-12.36},
{"t":3700,"s00":-14.54,"s02":-13.55,"s04":-13.13,"s06":-12.98,"s08":-12.46,"s10":-12.14},
{"t":3750,"s00":-14.43,"s02":-13.8,"s04":-12.88,"s06":-12.58,"s08":-12.85,"s10":-12.68},
{"t":3800,"s00":-14.61,"s02":-13.3,"s04":-13.42,"s06":-12.82,"s08":-12.79,"s10":-12.16},
{"t":3850,"s00":-14.5,"s02":-13.85,"s04":-12.77,"s06":-12.97,"s08":-12.43,"s10":-12.4},
{"t":3900,"s00":-14.73,"s02":-13.65,"s04":-13.11,"s06":-12.66,"s08":-12.77,"s10":-12.68},
{"t":3950,"s00":-14.92,"s02":-13.6,"s04":-13.46,"s06":-12.86,"s08":-13.06,"s10":-12.17},
{"t":4000,"s00":-14.8,"s02":-14.15,"s04":-12.95,"s06":-13.2,"s08":-12.65,"s10":-12.4},
{"t":4050,"s00":-14.86,"s02":-14.26,"s04":-12.97,"s06":-13.27,"s08":-12.68,"s10":-12.43},
{"t":4100,"s00":-15.14,"s02":-13.78,"s04":-13.63,"s06":-12.98,"s08":-13.22,"s10":-12.25},
{"t":4150,"s00":-15.1,"s02":-13.97,"s04":-13.36,"s06":-12.86,"s08":-12.99,"s10":-12.9},
{"t":4200,"s00":-14.99,"s02":-14.32,"s04":-13.08,"s06":-13.29,"s08":-12.7,"s10":-12.66},
{"t":4250,"s00":-15.29,"s02":-13.84,"s04":-13.91,"s06":-13.23,"s08":-13.19,"s10":-12.48},
{"t":4300,"s00":-15.23,"s02":-14.52,"s04":-13.41,"s06":-13.05,"s08":-13.34,"s10":-13.13},
{"t":4350,"s00":-15.53,"s02":-14.38,"s04":-13.8,"s06":-13.6,"s08":-13.0,"s10":-12.61},
{"t":4400,"s00":-15.31,"s02":-14.17,"s04":-13.41,"s06":-13.3,"s08":-12.93,"s10":-12.93},
{"t":4450,"s00":-15.49,"s02":-14.92,"s04":-14.24,"s06":-13.24,"s08":-13.59,"s10":-12.53},
{"t":4500,"s00":-15.66,"s02":-14.49,"s04":-13.79,"s06":-13.62,"s08":-13.24,"s10":-13.12},
{"t":4550,"s00":-15.74,"s02":-14.55,"s04":-13.85,"s06":-13.66,"s08":-13.28,"s10":-13.17},
{"t":4600,"s00":-15.69,"s02":-15.14,"s04":-14.42,"s06":-13.36,"s08":-13.73,"s10":-12.63},
{"t":4650,"s00":-15.64,"s02":-14.52,"s04":-13.67,"s06":-13.51,"s08":-13.13,"s10":-13.14},
{"t":4700,"s00":-16.0,"s02":-14.88,"s04":-14.19,"s06":-13.9,"s08":-13.29,"s10":-12.89},
{"t":4750,"s00":-15.84,"s02":-15.18,"s04":-13.9,"s06":-13.42,"s08":-13.73,"s10":-13.5},
{"t":4800,"s00":-16.03,"s02":-14.62,"s04":-14.53,"s06":-13.69,"s08":-13.66,"s10":-12.91},
{"t":4850,"s00":-15.87,"s02":-15.26,"s04":-13.78,"s06":-13.85,"s08":-13.23,"s10":-13.18},
{"t":4900,"s00":-16.11,"s02":-15.04,"s04":-14.17,"s06":-13.48,"s08":-13.62,"s10":-13.51},
{"t":4950,"s00":-16.3,"s02":-15.0,"s04":-14.58,"s06":-13.69,"s08":-13.95,"s10":-12.91},
{"t":5000,"s00":-16.13,"s02":-15.65,"s04":-14.0,"s06":-14.08,"s08":-13.47,"s10":-13.18},
{"t":5050,"s00":-16.24,"s02":-15.76,"s04":-14.07,"s06":-14.16,"s08":-13.52,"s10":-13.22},
{"t":5100,"s00":-16.58,"s02":-15.26,"s04":-14.81,"s06":-13.87,"s08":-14.12,"s10":-13.01},
{"t":5150,"s00":-16.57,"s02":-15.48,"s04":-14.54,"s06":-13.76,"s08":-13.88,"s10":-13.71},
{"t":5200,"s00":-16.49,"s02":-15.88,"s04":-14.26,"s06":-14.25,"s08":-13.58,"s10":-13.44},
{"t":5250,"s00":-16.84,"s02":-15.38,"s04":-15.19,"s06":-14.2,"s08":-14.12,"s10":-13.24},
{"t":5300,"s00":-16.82,"s02":-16.14,"s04":-14.67,"s06":-14.03,"s08":-14.3,"s10":-13.93},
{"t":5350,"s00":-17.17,"s02":-16.0,"s04":-15.12,"s06":-14.64,"s08":-13.94,"s10":-13.37},
{"t":5400,"s00":-16.97,"s02":-15.8,"s04":-14.72,"s06":-14.35,"s08":-13.88,"s10":-13.7},
{"t":5450,"s00":-17.2,"s02":-16.62,"s04":-15.65,"s06":-14.3,"s08":-14.6,"s10":-13.26},
{"t":5500,"s00":-17.42,"s02":-16.18,"s04":-15.19,"s06":-14.73,"s08":-14.24,"s10":-13.89},
{"t":5550,"s00":-17.54,"s02":-16.28,"s04":-15.28,"s06":-14.81,"s08":-14.3,"s10":-13.94},
{"t":5600,"s00":-17.53,"s02":-16.94,"s04":-15.92,"s06":-14.51,"s08":-14.8,"s10":-13.34},
{"t":5650,"s00":-17.53,"s02":-16.29,"s04":-15.13,"s06":-14.71,"s08":-14.17,"s10":-13.88},
{"t":5700,"s00":-17.95,"s02":-16.7,"s04":-15.71,"s06":-15.16,"s08":-14.35,"s10":-13.6},
{"t":5750,"s00":-17.82,"s02":-17.05,"s04":-15.43,"s06":-14.67,"s08":-14.85,"s10":-14.27},
{"t":5800,"s00":-18.05,"s02":-16.46,"s04":-16.14,"s06":-15.0,"s08":-14.78,"s10":-13.61},
{"t":5850,"s00":-17.92,"s02":-17.19,"s04":-15.35,"s06":-15.19,"s08":-14.34,"s10":-13.9},
{"t":5900,"s00":-18.22,"s02":-16.98,"s04":-15.81,"s06":-14.84,"s08":-14.78,"s10":-14.24},
{"t":5950,"s00":-18.46,"s02":-16.95,"s04":-16.27,"s06":-15.1,"s08":-15.15,"s10":-13.59},
{"t":6000,"s00":-18.33,"s02":-17.68,"s04":-15.66,"s06":-15.55,"s08":-14.65,"s10":-13.88}
],
"G":[
{"t":300,"s00":-11.15,"s02":-11.25,"s04":-11.3,"s06":-11.1,"s08":-11.2,"s10":-11.15},
{"t":350,"s00":-10.9,"s02":-10.8,"s04":-11.0,"s06":-10.75,"s08":-10.85,"s10":-10.9},
{"t":400,"s00":-10.6,"s02":-10.5,"s04":-10.65,"s06":-10.5,"s08":-10.55,"s10":-10.6},
{"t":450,"s00":-10.4,"s02":-10.35,"s04":-10.45,"s06":-10.3,"s08":-10.35,"s10":-10.4},
{"t":500,"s00":-10.22,"s02":-10.18,"s04":-10.25,"s06":-10.15,"s08":-10.2,"s10":-10.22},
{"t":550,"s00":-10.1,"s02":-10.08,"s04":-10.13,"s06":-10.05,"s08":-10.09,"s10":-10.11},
{"t":600,"s00":-10.02,"s02":-10.0,"s04":-10.04,"s06":-9.98,"s08":-10.0,"s10":-10.03},
{"t":650,"s00":-9.95,"s02":-9.93,"s04":-9.96,"s06":-9.92,"s08":-9.94,"s10":-9.97},
{"t":700,"s00":-9.9,"s02":-9.88,"s04":-9.9,"s06":-9.88,"s08":-9.9,"s10":-9.92},
{"t":750,"s00":-9.88,"s02":-9.86,"s04":-9.88,"s06":-9.87,"s08":-9.89,"s10":-9.91},
{"t":800,"s00":-9.88,"s02":-9.87,"s04":-9.88,"s06":-9.88,"s08":-9.9,"s10":-9.92},
{"t":850,"s00":-9.9,"s02":-9.89,"s04":-9.91,"s06":-9.91,"s08":-9.92,"s10":-9.95},
{"t":900,"s00":-9.94,"s02":-9.93,"s04":-9.95,"s06":-9.95,"s08":-9.96,"s10":-9.98},
{"t":950,"s00":-9.98,"s02":-9.97,"s04":-9.99,"s06":-9.99,"s08":-10.0,"s10":-10.02},
{"t":1000,"s00":-10.03,"s02":-10.02,"s04":-10.03,"s06":-10.04,"s08":-10.05,"s10":-10.07},
{"t":1050,"s00":-10.1,"s02":-10.05,"s04":-10.1,"s06":-10.06,"s08":-10.12,"s10":-10.08},
{"t":1100,"s00":-10.14,"s02":-10.12,"s04":-10.12,"s06":-10.13,"s08":-10.14,"s10":-10.15},
{"t":1150,"s00":-10.22,"s02":-10.16,"s04":-10.2,"s06":-10.15,"s08":-10.2,"s10":-10.17},
{"t":1200,"s00":-10.27,"s02":-10.24,"s04":-10.22,"s06":-10.22,"s08":-10.23,"s10":-10.24},
{"t":1250,"s00":-10.36,"s02":-10.27,"s04":-10.3,"s06":-10.25,"s08":-10.3,"s10":-10.26},
{"t":1300,"s00":-10.4,"s02":-10.35,"s04":-10.33,"s06":-10.32,"s08":-10.31,"s10":-10.33},
{"t":1350,"s00":-10.49,"s02":-10.38,"s04":-10.42,"s06":-10.34,"s08":-10.4,"s10":-10.34},
{"t":1400,"s00":-10.52,"s02":-10.46,"s04":-10.43,"s06":-10.41,"s08":-10.4,"s10":-10.4},
{"t":1450,"s00":-10.62,"s02":-10.5,"s04":-10.53,"s06":-10.43,"s08":-10.49,"s10":-10.42},
{"t":1500,"s00":-10.65,"s02":-10.56,"s04":-10.52,"s06":-10.5,"s08":-10.48,"s10":-10.47},
{"t":1550,"s00":-10.75,"s02":-10.6,"s04":-10.62,"s06":-10.52,"s08":-10.58,"s10":-10.48},
{"t":1600,"s00":-10.78,"s02":-10.68,"s04":-10.63,"s06":-10.6,"s08":-10.57,"s10":-10.55},
{"t":1650,"s00":-10.89,"s02":-10.72,"s04":-10.74,"s06":-10.62,"s08":-10.68,"s10":-10.56},
{"t":1700,"s00":-10.92,"s02":-10.81,"s04":-10.74,"s06":-10.7,"s08":-10.67,"s10":-10.64},
{"t":1750,"s00":-11.03,"s02":-10.85,"s04":-10.86,"s06":-10.72,"s08":-10.78,"s10":-10.65},
{"t":1800,"s00":-11.05,"s02":-10.93,"s04":-10.85,"s06":-10.8,"s08":-10.77,"s10":-10.73},
{"t":1850,"s00":-11.16,"s02":-10.97,"s04":-10.97,"s06":-10.82,"s08":-10.88,"s10":-10.74},
{"t":1900,"s00":-11.18,"s02":-11.05,"s04":-10.96,"s06":-10.9,"s08":-10.86,"s10":-10.81},
{"t":1950,"s00":-11.27,"s02":-11.09,"s04":-11.07,"s06":-10.92,"s08":-10.97,"s10":-10.83},
{"t":2000,"s00":-11.3,"s02":-11.15,"s04":-11.05,"s06":-11.0,"s08":-10.95,"s10":-10.9},
{"t":2050,"s00":-11.45,"s02":-11.36,"s04":-11.07,"s06":-10.98,"s08":-11.1,"s10":-10.9},
{"t":2100,"s00":-11.46,"s02":-11.07,"s04":-11.45,"s06":-11.34,"s08":-10.94,"s10":-11.2},
{"t":2150,"s00":-11.47,"s02":-11.42,"s04":-11.02,"s06":-10.98,"s08":-11.05,"s10":-10.86},
{"t":2200,"s00":-11.72,"s02":-11.31,"s04":-11.36,"s06":-11.2,"s08":-11.3,"s10":-10.98},
{"t":2250,"s00":-11.66,"s02":-11.72,"s04":-11.21,"s06":-11.39,"s08":-11.04,"s10":-11.26},
{"t":2300,"s00":-11.82,"s02":-11.4,"s04":-11.62,"s06":-11.06,"s08":-11.22,"s10":-11.24},
{"t":2350,"s00":-11.76,"s02":-11.61,"s04":-11.19,"s06":-11.45,"s08":-11.34,"s10":-11.0},
{"t":2400,"s00":-11.94,"s02":-11.84,"s04":-11.46,"s06":-11.33,"s08":-11.14,"s10":-11.26},
{"t":2450,"s00":-12.09,"s02":-11.53,"s04":-11.73,"s06":-11.31,"s08":-11.29,"s10":-11.47},
{"t":2500,"s00":-12.03,"s02":-11.73,"s04":-11.41,"s06":-11.71,"s08":-11.54,"s10":-11.21},
{"t":2550,"s00":-12.09,"s02":-11.77,"s04":-11.41,"s06":-11.81,"s08":-11.63,"s10":-11.23},
{"t":2600,"s00":-12.35,"s02":-11.66,"s04":-11.93,"s06":-11.43,"s08":-11.42,"s10":-11.66},
{"t":2650,"s00":-12.34,"s02":-12.19,"s04":-11.73,"s06":-11.56,"s08":-11.36,"s10":-11.5},
{"t":2700,"s00":-12.29,"s02":-12.04,"s04":-11.53,"s06":-11.83,"s08":-11.71,"s10":-11.29},
{"t":2750,"s00":-12.54,"s02":-11.93,"s04":-12.19,"s06":-11.45,"s08":-11.68,"s10":-11.69},
{"t":2800,"s00":-12.54,"s02":-12.46,"s04":-11.81,"s06":-11.97,"s08":-11.56,"s10":-11.82},
{"t":2850,"s00":-12.79,"s02":-12.09,"s04":-12.13,"s06":-11.85,"s08":-12.0,"s10":-11.57},
{"t":2900,"s00":-12.65,"s02":-12.37,"s04":-11.83,"s06":-11.69,"s08":-11.8,"s10":-11.54},
{"t":2950,"s00":-12.82,"s02":-12.08,"s04":-12.49,"s06":-12.25,"s08":-11.77,"s10":-12.06},
{"t":3000,"s00":-12.99,"s02":-12.57,"s04":-12.16,"s06":-11.91,"s08":-12.08,"s10":-11.81},
{"t":3050,"s00":-13.09,"s02":-12.68,"s04":-12.22,"s06":-11.97,"s08":-12.16,"s10":-11.86},
{"t":3100,"s00":-13.07,"s02":-12.25,"s04":-12.74,"s06":-12.48,"s08":-11.92,"s10":-12.26},
{"t":3150,"s00":-13.06,"s02":-12.73,"s04":-12.11,"s06":-11.95,"s08":-12.08,"s10":-11.77},
{"t":3200,"s00":-13.39,"s02":-12.55,"s04":-12.58,"s06":-12.26,"s08":-12.44,"s10":-11.92},
{"t":3250,"s00":-13.28,"s02":-13.13,"s04":-12.35,"s06":-12.53,"s08":-12.05,"s10":-12.33},
{"t":3300,"s00":-13.46,"s02":-12.65,"s04":-12.92,"s06":-12.04,"s08":-12.31,"s10":-12.28},
{"t":3350,"s00":-13.35,"s02":-12.93,"s04":-12.29,"s06":-12.61,"s08":-12.47,"s10":-11.94},
{"t":3400,"s00":-13.58,"s02":-13.25,"s04":-12.66,"s06":-12.42,"s08":-12.18,"s10":-12.29},
{"t":3450,"s00":-13.77,"s02":-12.78,"s04":-13.03,"s06":-12.39,"s08":-12.39,"s10":-12.6},
{"t":3500,"s00":-13.65,"s02":-13.05,"s04":-12.55,"s06":-12.95,"s08":-12.75,"s10":-12.2},
{"t":3550,"s00":-13.74,"s02":-13.13,"s04":-12.62,"s06":-13.02,"s08":-12.81,"s10":-12.25},
{"t":3600,"s00":-14.02,"s02":-13.01,"s04":-13.23,"s06":-12.58,"s08":-12.57,"s10":-12.75},
{"t":3650,"s00":-14.01,"s02":-13.64,"s04":-13.0,"s06":-12.75,"s08":-12.48,"s10":-12.55},
{"t":3700,"s00":-13.94,"s02":-13.47,"s04":-12.76,"s06":-13.06,"s08":-12.89,"s10":-12.3},
{"t":3750,"s00":-14.23,"s02":-13.35,"s04":-13.53,"s06":-12.63,"s08":-12.85,"s10":-12.75},
{"t":3800,"s00":-14.21,"s02":-13.98,"s04":-13.09,"s06":-13.24,"s08":-12.71,"s10":-12.9},
{"t":3850,"s00":-14.5,"s02":-13.56,"s04":-13.46,"s06":-13.11,"s08":-13.22,"s10":-12.6},
{"t":3900,"s00":-14.33,"s02":-13.89,"s04":-13.12,"s06":-12.92,"s08":-12.98,"s10":-12.55},
{"t":3950,"s00":-14.52,"s02":-13.57,"s04":-13.89,"s06":-13.59,"s08":-12.94,"s10":-13.15},
{"t":4000,"s00":-14.7,"s02":-14.15,"s04":-13.5,"s06":-13.2,"s08":-13.3,"s10":-12.85},
{"t":4050,"s00":-14.82,"s02":-14.25,"s04":-13.57,"s06":-13.25,"s08":-13.37,"s10":-12.88},
{"t":4100,"s00":-14.81,"s02":-13.77,"s04":-14.14,"s06":-13.81,"s08":-13.08,"s10":-13.31},
{"t":4150,"s00":-14.81,"s02":-14.29,"s04":-13.45,"s06":-13.2,"s08":-13.24,"s10":-12.74},
{"t":4200,"s00":-15.19,"s02":-14.08,"s04":-13.96,"s06":-13.54,"s08":-13.63,"s10":-12.89},
{"t":4250,"s00":-15.07,"s02":-14.72,"s04":-13.71,"s06":-13.82,"s08":-13.18,"s10":-13.32},
{"t":4300,"s00":-15.29,"s02":-14.18,"s04":-14.33,"s06":-13.27,"s08":-13.45,"s10":-13.25},
{"t":4350,"s00":-15.17,"s02":-14.48,"s04":-13.64,"s06":-13.89,"s08":-13.61,"s10":-12.85},
{"t":4400,"s00":-15.44,"s02":-14.83,"s04":-14.04,"s06":-13.67,"s08":-13.27,"s10":-13.22},
{"t":4450,"s00":-15.66,"s02":-14.3,"s04":-14.45,"s06":-13.62,"s08":-13.49,"s10":-13.54},
{"t":4500,"s00":-15.54,"s02":-14.59,"s04":-13.91,"s06":-14.23,"s08":-13.87,"s10":-13.08},
{"t":4550,"s00":-15.64,"s02":-14.66,"s04":-13.97,"s06":-14.31,"s08":-13.93,"s10":-13.11},
{"t":4600,"s00":-15.98,"s02":-14.51,"s04":-14.67,"s06":-13.79,"s08":-13.62,"s10":-13.67},
{"t":4650,"s00":-15.97,"s02":-15.23,"s04":-14.39,"s06":-13.96,"s08":-13.5,"s10":-13.42},
{"t":4700,"s00":-15.9,"s02":-15.02,"s04":-14.12,"s06":-14.31,"s08":-13.95,"s10":-13.11},
{"t":4750,"s00":-16.24,"s02":-14.87,"s04":-15.0,"s06":-13.8,"s08":-13.88,"s10":-13.62},
{"t":4800,"s00":-16.22,"s02":-15.58,"s04":-14.49,"s06":-14.49,"s08":-13.69,"s10":-13.77},
{"t":4850,"s00":-16.56,"s02":-15.09,"s04":-14.91,"s06":-14.32,"s08":-14.26,"s10":-13.41},
{"t":4900,"s00":-16.37,"s02":-15.46,"s04":-14.51,"s06":-14.09,"s08":-13.95,"s10":-13.33},
{"t":4950,"s00":-16.6,"s02":-15.07,"s04":-15.39,"s06":-14.84,"s08":-13.89,"s10":-14.01},
{"t":5000,"s00":-16.82,"s02":-15.73,"s04":-14.94,"s06":-14.38,"s08":-14.27,"s10":-13.64},
{"t":5050,"s00":-16.92,"s02":-15.84,"s04":-14.99,"s06":-14.42,"s08":-14.31,"s10":-13.67},
{"t":5100,"s00":-16.9,"s02":-15.34,"s04":-15.58,"s06":-15.0,"s08":-13.97,"s10":-14.12},
{"t":5150,"s00":-16.88,"s02":-15.92,"s04":-14.79,"s06":-14.32,"s08":-14.12,"s10":-13.49},
{"t":5200,"s00":-17.28,"s02":-15.72,"s04":-15.32,"s06":-14.66,"s08":-14.5,"s10":-13.64},
{"t":5250,"s00":-17.14,"s02":-16.42,"s04":-15.01,"s06":-14.94,"s08":-13.99,"s10":-14.09},
{"t":5300,"s00":-17.36,"s02":-15.86,"s04":-15.66,"s06":-14.32,"s08":-14.25,"s10":-14.0},
{"t":5350,"s00":-17.22,"s02":-16.2,"s04":-14.87,"s06":-14.96,"s08":-14.4,"s10":-13.55},
{"t":5400,"s00":-17.5,"s02":-16.6,"s04":-15.28,"s06":-14.7,"s08":-14.0,"s10":-13.94},
{"t":5450,"s00":-17.72,"s02":-16.04,"s04":-15.69,"s06":-14.62,"s08":-14.21,"s10":-14.27},
{"t":5500,"s00":-17.58,"s02":-16.38,"s04":-15.08,"s06":-15.26,"s08":-14.59,"s10":-13.76},
{"t":5550,"s00":-17.68,"s02":-16.48,"s04":-15.12,"s06":-15.32,"s08":-14.63,"s10":-13.79},
{"t":5600,"s00":-18.02,"s02":-16.32,"s04":-15.86,"s06":-14.72,"s08":-14.28,"s10":-14.38},
{"t":5650,"s00":-18.0,"s02":-17.11,"s04":-15.55,"s06":-14.89,"s08":-14.12,"s10":-14.11},
{"t":5700,"s00":-17.91,"s02":-16.9,"s04":-15.22,"s06":-15.23,"s08":-14.57,"s10":-13.76},
{"t":5750,"s00":-18.26,"s02":-16.75,"s04":-16.16,"s06":-14.64,"s08":-14.48,"s10":-14.3},
{"t":5800,"s00":-18.24,"s02":-17.54,"s04":-15.58,"s06":-15.36,"s08":-14.25,"s10":-14.46},
{"t":5850,"s00":-18.59,"s02":-17.01,"s04":-16.01,"s06":-15.15,"s08":-14.84,"s10":-14.06},
{"t":5900,"s00":-18.38,"s02":-17.42,"s04":-15.56,"s06":-14.87,"s08":-14.49,"s10":-13.97},
{"t":5950,"s00":-18.6,"s02":-17.02,"s04":-16.5,"s06":-15.66,"s08":-14.39,"s10":-14.7},
{"t":6000,"s00":-18.82,"s02":-17.75,"s04":-15.99,"s06":-15.13,"s08":-14.79,"s10":-14.29}
],
"Brise":[
{"t":40,"s00":-10.85,"s02":-10.85,"s04":-10.85,"s06":-10.85,"s08":-10.85,"s10":-10.85},
{"t":80,"s00":-9.8,"s02":-9.8,"s04":-9.8,"s06":-9.8,"s08":-9.8,"s10":-9.8},
{"t":105,"s00":-9.13,"s02":-9.13,"s04":-9.13,"s06":-9.13,"s08":-9.13,"s10":-9.13},
{"t":145,"s00":-8.34,"s02":-8.34,"s04":-8.34,"s06":-8.34,"s08":-8.34,"s10":-8.34},
{"t":177,"s00":-7.37,"s02":-7.37,"s04":-7.37,"s06":-7.37,"s08":-7.37,"s10":-7.37},
{"t":210,"s00":-6.68,"s02":-6.68,"s04":-6.68,"s06":-6.68,"s08":-6.68,"s10":-6.68},
{"t":242,"s00":-6.29,"s02":-6.29,"s04":-6.29,"s06":-6.29,"s08":-6.29,"s10":-6.29},
{"t":290,"s00":-6.1,"s02":-6.1,"s04":-6.1,"s06":-6.1,"s08":-6.1,"s10":-6.1}
],
"B":[
{"t":347,"s00":-6.05,"s02":-6.05,"s04":-6.05,"s06":-6.05,"s08":-6.05,"s10":-6.05},
{"t":400,"s00":-6.12,"s02":-6.12,"s04":-6.12,"s06":-6.12,"s08":-6.12,"s10":-6.12},
{"t":500,"s00":-6.35,"s02":-6.35,"s04":-6.35,"s06":-6.35,"s08":-6.35,"s10":-6.35},
{"t":600,"s00":-6.65,"s02":-6.65,"s04":-6.65,"s06":-6.65,"s08":-6.65,"s10":-6.65},
{"t":700,"s00":-7.0,"s02":-7.0,"s04":-7.0,"s06":-7.0,"s08":-7.0,"s10":-7.0},
{"t":800,"s00":-7.33,"s02":-7.33,"s04":-7.33,"s06":-7.33,"s08":-7.33,"s10":-7.34},
{"t":900,"s00":-7.61,"s02":-7.61,"s04":-7.62,"s06":-7.62,"s08":-7.62,"s10":-7.64},
{"t":1000,"s00":-7.85,"s02":-7.85,"s04":-7.86,"s06":-7.87,"s08":-7.87,"s10":-7.9},
{"t":1100,"s00":-8.05,"s02":-8.05,"s04":-8.06,"s06":-8.1,"s08":-8.1,"s10":-8.15},
{"t":1200,"s00":-8.31,"s02":-8.31,"s04":-8.32,"s06":-8.36,"s08":-8.36,"s10":-8.41},
{"t":1300,"s00":-8.65,"s02":-8.65,"s04":-8.66,"s06":-8.7,"s08":-8.7,"s10":-8.75},
{"t":1400,"s00":-9.03,"s02":-9.03,"s04":-9.04,"s06":-9.08,"s08":-9.08,"s10":-9.13},
{"t":1500,"s00":-9.4,"s02":-9.4,"s04":-9.41,"s06":-9.45,"s08":-9.45,"s10":-9.5},
{"t":1600,"s00":-9.75,"s02":-9.75,"s04":-9.76,"s06":-9.8,"s08":-9.8,"s10":-9.85},
{"t":1700,"s00":-10.04,"s02":-10.04,"s04":-10.05,"s06":-10.08,"s08":-10.08,"s10":-10.12},
{"t":1800,"s00":-10.3,"s02":-10.3,"s04":-10.3,"s06":-10.32,"s08":-10.32,"s10":-10.35},
{"t":1900,"s00":-10.54,"s02":-10.53,"s04":-10.53,"s06":-10.53,"s08":-10.53,"s10":-10.55},
{"t":2000,"s00":-10.72,"s02":-10.71,"s04":-10.71,"s06":-10.71,"s08":-10.71,"s10":-10.72},
{"t":2200,"s00":-11.05,"s02":-11.01,"s04":-10.98,"s06":-10.96,"s08":-10.95,"s10":-10.95},
{"t":2400,"s00":-11.38,"s02":-11.3,"s04":-11.25,"s06":-11.21,"s08":-11.2,"s10":-11.19},
{"t":2600,"s00":-11.73,"s02":-11.58,"s04":-11.48,"s06":-11.43,"s08":-11.42,"s10":-11.39},
{"t":2800,"s00":-12.09,"s02":-11.84,"s04":-11.69,"s06":-11.62,"s08":-11.61,"s10":-11.57},
{"t":3000,"s00":-12.45,"s02":-12.1,"s04":-11.9,"s06":-11.82,"s08":-11.8,"s10":-11.75},
{"t":3200,"s00":-12.82,"s02":-12.4,"s04":-12.14,"s06":-12.0,"s08":-11.96,"s10":-11.92},
{"t":3400,"s00":-13.19,"s02":-12.7,"s04":-12.38,"s06":-12.17,"s08":-12.12,"s10":-12.05},
{"t":3600,"s00":-13.56,"s02":-13.0,"s04":-12.62,"s06":-12.35,"s08":-12.28,"s10":-12.26},
{"t":3800,"s00":-13.93,"s02":-13.3,"s04":-12.86,"s06":-12.52,"s08":-12.44,"s10":-12.43},
{"t":4000,"s00":-14.3,"s02":-13.6,"s04":-13.1,"s06":-12.7,"s08":-12.6,"s10":-12.6},
{"t":4200,"s00":-14.68,"s02":-13.92,"s04":-13.36,"s06":-12.85,"s08":-12.78,"s10":-12.74},
{"t":4400,"s00":-15.06,"s02":-14.24,"s04":-13.62,"s06":-13.1,"s08":-12.9,"s10":-12.95},
{"t":4600,"s00":-15.44,"s02":-14.56,"s04":-13.88,"s06":-13.35,"s08":-13.14,"s10":-13.02},
{"t":4800,"s00":-15.82,"s02":-14.88,"s04":-14.1,"s06":-13.5,"s08":-13.32,"s10":-13.1},
{"t":5000,"s00":-16.2,"s02":-15.2,"s04":-14.4,"s06":-13.7,"s08":-13.5,"s10":-13.3},
{"t":5200,"s00":-16.58,"s02":-15.55,"s04":-14.65,"s06":-13.85,"s08":-13.7,"s10":-13.3},
{"t":5400,"s00":-16.96,"s02":-15.9,"s04":-15.0,"s06":-14.2,"s08":-13.8,"s10":-13.35},
{"t":5600,"s00":-17.34,"s02":-16.35,"s04":-15.35,"s06":-14.35,"s08":-14.1,"s10":-13.6},
{"t":5800,"s00":-17.72,"s02":-16.65,"s04":-15.55,"s06":-14.7,"s08":-14.4,"s10":-13.8},
{"t":6000,"s00":-18.1,"s02":-17.1,"s04":-15.9,"s06":-14.9,"s08":-14.5,"s10":-14.2}
],
"Drise":[
{"t":97,"s00":-13.42,"s02":-13.4,"s04":-13.45,"s06":-13.3,"s08":-13.6,"s10":-13.5},
{"t":137,"s00":-12.24,"s02":-12.24,"s04":-12.24,"s06":-12.24,"s08":-12.24,"s10":-12.24},
{"t":177,"s00":-11.45,"s02":-11.45,"s04":-11.45,"s06":-11.45,"s08":-11.45,"s10":-11.45},
{"t":209,"s00":-10.66,"s02":-10.66,"s04":-10.66,"s06":-10.66,"s08":-10.66,"s10":-10.66},
{"t":233,"s00":-9.74,"s02":-9.74,"s04":-9.74,"s06":-9.74,"s08":-9.74,"s10":-9.74},
{"t":274,"s00":-8.95,"s02":-8.95,"s04":-8.95,"s06":-8.95,"s08":-8.95,"s10":-8.95},
{"t":322,"s00":-8.16,"s02":-8.16,"s04":-8.16,"s06":-8.16,"s08":-8.16,"s10":-8.16}
],
"D":[
{"t":378,"s00":-7.76,"s02":-7.76,"s04":-7.76,"s06":-7.76,"s08":-7.76,"s10":-7.76},
{"t":400,"s00":-7.7,"s02":-7.7,"s04":-7.7,"s06":-7.7,"s08":-7.7,"s10":-7.7},
{"t":500,"s00":-7.55,"s02":-7.55,"s04":-7.55,"s06":-7.55,"s08":-7.55,"s10":-7.56},
{"t":600,"s00":-7.6,"s02":-7.6,"s04":-7.6,"s06":-7.61,"s08":-7.61,"s10":-7.63},
{"t":700,"s00":-7.77,"s02":-7.77,"s04":-7.78,"s06":-7.8,"s08":-7.8,"s10":-7.85},
{"t":800,"s00":-8.02,"s02":-8.02,"s04":-8.03,"s06":-8.05,"s08":-8.05,"s10":-8.11},
{"t":900,"s00":-8.27,"s02":-8.27,"s04":-8.28,"s06":-8.3,"s08":-8.3,"s10":-8.37},
{"t":1000,"s00":-8.5,"s02":-8.5,"s04":-8.52,"s06":-8.55,"s08":-8.55,"s10":-8.62},
{"t":1100,"s00":-8.7,"s02":-8.7,"s04":-8.72,"s06":-8.75,"s08":-8.75,"s10":-8.82},
{"t":1200,"s00":-8.9,"s02":-8.9,"s04":-8.92,"s06":-8.95,"s08":-8.95,"s10":-9.02},
{"t":1300,"s00":-9.1,"s02":-9.1,"s04":-9.12,"s06":-9.15,"s08":-9.15,"s10":-9.21},
{"t":1400,"s00":-9.29,"s02":-9.29,"s04":-9.3,"s06":-9.33,"s08":-9.33,"s10":-9.38},
{"t":1500,"s00":-9.47,"s02":-9.47,"s04":-9.48,"s06":-9.5,"s08":-9.5,"s10":-9.54},
{"t":1600,"s00":-9.73,"s02":-9.73,"s04":-9.74,"s06":-9.75,"s08":-9.75,"s10":-9.78},
{"t":1700,"s00":-9.98,"s02":-9.97,"s04":-9.97,"s06":-9.98,"s08":-9.98,"s10":-10.0},
{"t":1800,"s00":-10.21,"s02":-10.2,"s04":-10.2,"s06":-10.2,"s08":-10.2,"s10":-10.2},
{"t":1900,"s00":-10.43,"s02":-10.4,"s04":-10.4,"s06":-10.4,"s08":-10.4,"s10":-10.39},
{"t":2000,"s00":-10.65,"s02":-10.6,"s04":-10.6,"s06":-10.6,"s08":-10.6,"s10":-10.58},
{"t":2200,"s00":-11.09,"s02":-10.96,"s04":-10.92,"s06":-10.88,"s08":-10.87,"s10":-10.86},
{"t":2400,"s00":-11.53,"s02":-11.32,"s04":-11.24,"s06":-11.16,"s08":-11.14,"s10":-11.14},
{"t":2600,"s00":-11.98,"s02":-11.67,"s04":-11.54,"s06":-11.42,"s08":-11.39,"s10":-11.4},
{"t":2800,"s00":-12.44,"s02":-12.02,"s04":-11.82,"s06":-11.66,"s08":-11.62,"s10":-11.65},
{"t":3000,"s00":-12.9,"s02":-12.37,"s04":-12.1,"s06":-11.9,"s08":-11.85,"s10":-11.9},
{"t":3200,"s00":-13.22,"s02":-12.64,"s04":-12.32,"s06":-12.08,"s08":-12.0,"s10":-12.06},
{"t":3400,"s00":-13.54,"s02":-12.9,"s04":-12.54,"s06":-12.26,"s08":-12.15,"s10":-12.2},
{"t":3600,"s00":-13.86,"s02":-13.17,"s04":-12.76,"s06":-12.44,"s08":-12.3,"s10":-12.38},
{"t":3800,"s00":-14.18,"s02":-13.43,"s04":-12.98,"s06":-12.62,"s08":-12.45,"s10":-12.52},
{"t":4000,"s00":-14.5,"s02":-13.7,"s04":-13.2,"s06":-12.8,"s08":-12.6,"s10":-12.7},
{"t":4200,"s00":-14.84,"s02":-14.0,"s04":-13.47,"s06":-13.0,"s08":-12.78,"s10":-12.8},
{"t":4400,"s00":-15.18,"s02":-14.3,"s04":-13.74,"s06":-13.2,"s08":-12.96,"s10":-12.98},
{"t":4600,"s00":-15.52,"s02":-14.55,"s04":-14.01,"s06":-13.4,"s08":-13.14,"s10":-13.05},
{"t":4800,"s00":-15.86,"s02":-14.9,"s04":-14.28,"s06":-13.6,"s08":-13.32,"s10":-13.25},
{"t":5000,"s00":-16.2,"s02":-15.2,"s04":-14.55,"s06":-13.8,"s08":-13.5,"s10":-13.35},
{"t":5200,"s00":-16.58,"s02":-15.6,"s04":-14.8,"s06":-14.05,"s08":-13.72,"s10":-13.45},
{"t":5400,"s00":-16.96,"s02":-15.95,"s04":-15.05,"s06":-14.3,"s08":-13.94,"s10":-13.6},
{"t":5600,"s00":-17.34,"s02":-16.4,"s04":-15.3,"s06":-14.5,"s08":-14.16,"s10":-13.7},
{"t":5800,"s00":-17.72,"s02":-16.8,"s04":-15.55,"s06":-14.6,"s08":-14.38,"s10":-13.6},
{"t":6000,"s00":-18.1,"s02":-17.1,"s04":-15.8,"s06":-15.0,"s08":-14.6,"s10":-13.9}
],
"Frise":[
{"t":177,"s00":-14.55,"s02":-14.52,"s04":-14.52,"s06":-14.4,"s08":-14.5,"s10":-14.55},
{"t":217,"s00":-13.85,"s02":-13.85,"s04":-13.85,"s06":-13.85,"s08":-13.85,"s10":-13.85},
{"t":237,"s00":-13.2,"s02":-13.2,"s04":-13.2,"s06":-13.2,"s08":-13.2,"s10":-13.2},
{"t":258,"s00":-12.52,"s02":-12.52,"s04":-12.52,"s06":-12.52,"s08":-12.52,"s10":-12.52},
{"t":278,"s00":-12.05,"s02":-12.05,"s04":-12.05,"s06":-12.05,"s08":-12.05,"s10":-12.05},
{"t":298,"s00":-11.59,"s02":-11.59,"s04":-11.59,"s06":-11.59,"s08":-11.59,"s10":-11.59},
{"t":318,"s00":-11.2,"s02":-11.2,"s04":-11.2,"s06":-11.2,"s08":-11.2,"s10":-11.2},
{"t":338,"s00":-10.79,"s02":-10.79,"s04":-10.79,"s06":-10.79,"s08":-10.79,"s10":-10.79},
{"t":358,"s00":-10.4,"s02":-10.4,"s04":-10.4,"s06":-10.4,"s08":-10.4,"s10":-10.4},
{"t":378,"s00":-9.99,"s02":-9.99,"s04":-9.99,"s06":-9.99,"s08":-9.99,"s10":-9.99},
{"t":405,"s00":-9.65,"s02":-9.65,"s04":-9.65,"s06":-9.65,"s08":-9.65,"s10":-9.65},
{"t":435,"s00":-9.32,"s02":-9.32,"s04":-9.32,"s06":-9.32,"s08":-9.32,"s10":-9.32},
{"t":465,"s00":-9.1,"s02":-9.1,"s04":-9.1,"s06":-9.1,"s08":-9.1,"s10":-9.1}
],
"F":[
{"t":499,"s00":-8.92,"s02":-8.92,"s04":-8.92,"s06":-8.92,"s08":-8.92,"s10":-8.92},
{"t":600,"s00":-8.7,"s02":-8.7,"s04":-8.7,"s06":-8.7,"s08":-8.7,"s10":-8.71},
{"t":700,"s00":-8.64,"s02":-8.64,"s04":-8.64,"s06":-8.65,"s08":-8.65,"s10":-8.67},
{"t":800,"s00":-8.66,"s02":-8.66,"s04":-8.67,"s06":-8.68,"s08":-8.68,"s10":-8.72},
{"t":900,"s00":-8.73,"s02":-8.73,"s04":-8.74,"s06":-8.76,"s08":-8.76,"s10":-8.81},
{"t":1000,"s00":-8.82,"s02":-8.82,"s04":-8.83,"s06":-8.85,"s08":-8.85,"s10":-8.9},
{"t":1100,"s00":-8.95,"s02":-8.95,"s04":-8.96,"s06":-8.98,"s08":-8.98,"s10":-9.03},
{"t":1200,"s00":-9.09,"s02":-9.09,"s04":-9.1,"s06":-9.12,"s08":-9.12,"s10":-9.17},
{"t":1300,"s00":-9.24,"s02":-9.24,"s04":-9.25,"s06":-9.27,"s08":-9.27,"s10":-9.31},
{"t":1400,"s00":-9.4,"s02":-9.4,"s04":-9.41,"s06":-9.43,"s08":-9.43,"s10":-9.47},
{"t":1500,"s00":-9.58,"s02":-9.57,"s04":-9.58,"s06":-9.6,"s08":-9.6,"s10":-9.63},
{"t":1600,"s00":-9.76,"s02":-9.75,"s04":-9.75,"s06":-9.77,"s08":-9.77,"s10":-9.79},
{"t":1700,"s00":-9.95,"s02":-9.93,"s04":-9.93,"s06":-9.94,"s08":-9.94,"s10":-9.95},
{"t":1800,"s00":-10.14,"s02":-10.11,"s04":-10.1,"s06":-10.11,"s08":-10.11,"s10":-10.11},
{"t":1900,"s00":-10.33,"s02":-10.29,"s04":-10.28,"s06":-10.28,"s08":-10.28,"s10":-10.27},
{"t":2000,"s00":-10.5,"s02":-10.46,"s04":-10.45,"s06":-10.45,"s08":-10.45,"s10":-10.43},
{"t":2200,"s00":-10.88,"s02":-10.79,"s04":-10.75,"s06":-10.72,"s08":-10.72,"s10":-10.7},
{"t":2400,"s00":-11.25,"s02":-11.13,"s04":-11.05,"s06":-10.99,"s08":-10.98,"s10":-10.95},
{"t":2600,"s00":-11.64,"s02":-11.46,"s04":-11.34,"s06":-11.26,"s08":-11.24,"s10":-11.2},
{"t":2800,"s00":-12.02,"s02":-11.78,"s04":-11.62,"s06":-11.53,"s08":-11.52,"s10":-11.45},
{"t":3000,"s00":-12.4,"s02":-12.1,"s04":-11.9,"s06":-11.8,"s08":-11.8,"s10":-11.7},
{"t":3200,"s00":-12.77,"s02":-12.42,"s04":-12.16,"s06":-11.98,"s08":-11.97,"s10":-11.85},
{"t":3400,"s00":-13.14,"s02":-12.74,"s04":-12.42,"s06":-12.14,"s08":-12.14,"s10":-11.98},
{"t":3600,"s00":-13.51,"s02":-13.06,"s04":-12.68,"s06":-12.3,"s08":-12.31,"s10":-12.15},
{"t":3800,"s00":-13.88,"s02":-13.38,"s04":-12.94,"s06":-12.5,"s08":-12.48,"s10":-12.3},
{"t":4000,"s00":-14.25,"s02":-13.7,"s04":-13.2,"s06":-12.8,"s08":-12.65,"s10":-12.5},
{"t":4200,"s00":-14.62,"s02":-14.0,"s04":-13.44,"s06":-13.0,"s08":-12.78,"s10":-12.6},
{"t":4400,"s00":-14.99,"s02":-14.3,"s04":-13.68,"s06":-13.2,"s08":-12.9,"s10":-12.78},
{"t":4600,"s00":-15.36,"s02":-14.6,"s04":-13.92,"s06":-13.45,"s08":-13.05,"s10":-12.95},
{"t":4800,"s00":-15.73,"s02":-14.9,"s04":-14.16,"s06":-13.85,"s08":-13.15,"s10":-13.1},
{"t":4900,"s06":-13.35},
{"t":5000,"s00":-16.1,"s02":-15.2,"s04":-14.4,"s06":-13.5,"s08":-13.3,"s10":-13.3},
{"t":5200,"s00":-16.48,"s02":-15.53,"s04":-14.65,"s06":-13.85,"s08":-13.5,"s10":-13.45},
{"t":5400,"s00":-16.86,"s02":-15.86,"s04":-14.9,"s06":-14.2,"s08":-13.75,"s10":-13.55},
{"t":5600,"s00":-17.24,"s02":-16.19,"s04":-15.15,"s06":-14.45,"s08":-13.95,"s10":-13.6},
{"t":5800,"s00":-17.62,"s02":-16.52,"s04":-15.4,"s06":-14.7,"s08":-14.2,"s10":-13.95},
{"t":6000,"s00":-18.0,"s02":-16.85,"s04":-15.65,"s06":-15.0,"s08":-14.45,"s10":-13.75}
],
"Hrise":[
{"t":280,"s00":-15.35,"s02":-15.3,"s04":-15.5,"s06":-15.3,"s08":-15.35,"s10":-15.4},
{"t":320,"s00":-14.8,"s02":-14.75,"s04":-15.1,"s06":-14.7,"s08":-14.8,"s10":-14.85},
{"t":350,"s00":-14.5,"s02":-14.45,"s04":-14.55,"s06":-14.4,"s08":-14.5,"s10":-14.55},
{"t":385,"s00":-14.1,"s02":-14.0,"s04":-14.2,"s06":-14.0,"s08":-14.05,"s10":-14.1},
{"t":405,"s00":-13.05,"s02":-13.0,"s04":-13.5,"s06":-13.0,"s08":-13.0,"s10":-13.1},
{"t":430,"s00":-12.4,"s02":-12.35,"s04":-12.9,"s06":-12.3,"s08":-12.35,"s10":-12.45},
{"t":455,"s00":-12.0,"s02":-11.95,"s04":-12.35,"s06":-11.9,"s08":-11.95,"s10":-12.05},
{"t":480,"s00":-11.75,"s02":-11.7,"s04":-11.95,"s06":-11.65,"s08":-11.7,"s10":-11.8},
{"t":510,"s00":-11.55,"s02":-11.5,"s04":-11.6,"s06":-11.45,"s08":-11.5,"s10":-11.6},
{"t":550,"s00":-11.05,"s02":-11.0,"s04":-11.1,"s06":-10.95,"s08":-11.0,"s10":-11.1},
{"t":590,"s00":-10.75,"s02":-10.72,"s04":-10.8,"s06":-10.7,"s08":-10.72,"s10":-10.8}
],
"H":[
{"t":630,"s00":-10.53,"s02":-10.5,"s04":-10.55,"s06":-10.48,"s08":-10.5,"s10":-10.55},
{"t":700,"s00":-10.3,"s02":-10.28,"s04":-10.3,"s06":-10.28,"s08":-10.29,"s10":-10.32},
{"t":800,"s00":-10.08,"s02":-10.06,"s04":-10.07,"s06":-10.07,"s08":-10.08,"s10":-10.1},
{"t":900,"s00":-9.96,"s02":-9.95,"s04":-9.95,"s06":-9.96,"s08":-9.97,"s10":-9.99},
{"t":1000,"s00":-9.92,"s02":-9.9,"s04":-9.91,"s06":-9.92,"s08":-9.93,"s10":-9.95},
{"t":1100,"s00":-9.95,"s02":-9.94,"s04":-9.95,"s06":-9.95,"s08":-9.96,"s10":-9.98},
{"t":1200,"s00":-10.03,"s02":-10.01,"s04":-10.02,"s06":-10.02,"s08":-10.03,"s10":-10.05},
{"t":1300,"s00":-10.12,"s02":-10.1,"s04":-10.1,"s06":-10.1,"s08":-10.11,"s10":-10.13},
{"t":1400,"s00":-10.23,"s02":-10.2,"s04":-10.2,"s06":-10.19,"s08":-10.2,"s10":-10.22},
{"t":1500,"s00":-10.36,"s02":-10.32,"s04":-10.31,"s06":-10.3,"s08":-10.3,"s10":-10.32},
{"t":1600,"s00":-10.48,"s02":-10.44,"s04":-10.43,"s06":-10.41,"s08":-10.41,"s10":-10.42},
{"t":1700,"s00":-10.61,"s02":-10.56,"s04":-10.54,"s06":-10.52,"s08":-10.52,"s10":-10.52},
{"t":1800,"s00":-10.74,"s02":-10.68,"s04":-10.66,"s06":-10.63,"s08":-10.63,"s10":-10.62},
{"t":1900,"s00":-10.87,"s02":-10.8,"s04":-10.78,"s06":-10.76,"s08":-10.76,"s10":-10.75},
{"t":2000,"s00":-11.0,"s02":-10.92,"s04":-10.9,"s06":-10.9,"s08":-10.9,"s10":-10.88},
{"t":2200,"s00":-11.36,"s02":-11.2,"s04":-11.14,"s06":-11.1,"s08":-11.1,"s10":-11.08},
{"t":2400,"s00":-11.72,"s02":-11.5,"s04":-11.38,"s06":-11.3,"s08":-11.3,"s10":-11.26},
{"t":2600,"s00":-12.08,"s02":-11.79,"s04":-11.61,"s06":-11.5,"s08":-11.49,"s10":-11.43},
{"t":2800,"s00":-12.44,"s02":-12.07,"s04":-11.83,"s06":-11.7,"s08":-11.67,"s10":-11.59},
{"t":3000,"s00":-12.8,"s02":-12.35,"s04":-12.05,"s06":-11.9,"s08":-11.85,"s10":-11.75},
{"t":3200,"s00":-13.14,"s02":-12.64,"s04":-12.3,"s06":-12.09,"s08":-12.02,"s10":-11.9},
{"t":3400,"s00":-13.48,"s02":-12.93,"s04":-12.55,"s06":-12.28,"s08":-12.19,"s10":-12.08},
{"t":3600,"s00":-13.82,"s02":-13.22,"s04":-12.8,"s06":-12.47,"s08":-12.36,"s10":-12.25},
{"t":3800,"s00":-14.16,"s02":-13.51,"s04":-13.05,"s06":-12.66,"s08":-12.53,"s10":-12.42},
{"t":4000,"s00":-14.5,"s02":-13.8,"s04":-13.3,"s06":-12.85,"s08":-12.7,"s10":-12.6},
{"t":4200,"s00":-14.84,"s02":-14.2,"s04":-13.54,"s06":-13.04,"s08":-12.87,"s10":-12.72},
{"t":4400,"s00":-15.18,"s02":-14.6,"s04":-13.78,"s06":-13.15,"s08":-13.04,"s10":-12.8},
{"t":4600,"s00":-15.52,"s02":-14.95,"s04":-14.02,"s06":-13.42,"s08":-13.2,"s10":-12.9},
{"t":4800,"s00":-15.86,"s02":-15.3,"s04":-14.26,"s06":-13.61,"s08":-13.38,"s10":-13.05},
{"t":4900,"s02":-15.0},
{"t":5000,"s00":-16.2,"s02":-15.05,"s04":-14.5,"s06":-13.8,"s08":-13.55,"s10":-13.15},
{"t":5200,"s00":-16.58,"s02":-15.5,"s04":-14.8,"s06":-14.09,"s08":-13.85,"s10":-13.3},
{"t":5400,"s00":-16.96,"s02":-16.1,"s04":-15.1,"s06":-14.4,"s08":-14.1,"s10":-13.5},
{"t":5600,"s00":-17.34,"s02":-16.5,"s04":-15.4,"s06":-14.55,"s08":-14.4,"s10":-13.8},
{"t":5800,"s00":-17.72,"s02":-16.85,"s04":-15.7,"s06":-15.05,"s08":-14.75,"s10":-14.1},
{"t":6000,"s00":-18.1,"s02":-17.2,"s04":-16.05,"s06":-15.25,"s08":-14.95,"s10":-14.4}
]
},
"columns":2,
"spacing":{"row":53,"column":76},
"bounds":"flush",
"resolve":{"scale":{"color":"independent"},"legend":{"color":"independent"}},
"concat":[
{"width":247,"height":190,"title":"Interfiber S-D = 10 mm","layer":[
{"data":{"values":[{"t1":0,"t2":1000}]},"mark":{"type":"rect","fill":"#d7ebc7","stroke":"#34538a","strokeWidth":2,"strokeDash":[2,1.5]},"encoding":{"x":{"field":"t1","type":"quantitative","title":"time [ps]","scale":{"domain":[0,6000],"nice":false}},"x2":{"field":"t2"},"y":{"datum":-20,"type":"quantitative","title":"Fluence [mm⁻²ps⁻¹]","scale":{"domain":[-20,-5],"nice":false}},"y2":{"datum":-5}}},
{"data":{"values":[{"t1":2570,"t2":6000}]},"mark":{"type":"rect","fill":{"gradient":"linear","x1":0,"x2":1,"y1":0,"y2":0,"stops":[{"offset":0,"color":"#f4dcdc"},{"offset":1,"color":"#eff3fa"}]},"stroke":"#34538a","strokeWidth":2,"strokeDash":[2,1.5]},"encoding":{"x":{"field":"t1","type":"quantitative","title":"time [ps]","scale":{"domain":[0,6000],"nice":false}},"x2":{"field":"t2"},"y":{"datum":-20,"type":"quantitative","title":"Fluence [mm⁻²ps⁻¹]","scale":{"domain":[-20,-5],"nice":false}},"y2":{"datum":-5}}},
{"data":{"name":"A"},"transform":[{"fold":["s00","s02","s04","s06","s08","s10"],"as":["stage","lf"]},{"filter":"isValid(datum.lf)"}],"mark":{"type":"point","filled":true,"size":5,"opacity":1},"encoding":{"x":{"field":"t","type":"quantitative","title":"time [ps]","scale":{"domain":[0,6000],"nice":false},"axis":{"values":[0,1000,2000,3000,4000,5000,6000],"format":"d","grid":true}},"y":{"field":"lf","type":"quantitative","title":"Fluence [mm⁻²ps⁻¹]","scale":{"domain":[-20,-5],"nice":false},"axis":{"values":[-20,-15,-10,-5],"grid":true,"labelExpr":"datum.value == -5 ? '10⁻⁵' : datum.value == -10 ? '10⁻¹⁰' : datum.value == -15 ? '10⁻¹⁵' : '10⁻²⁰'"}},"color":{"field":"stage","type":"nominal","scale":{"domain":["s00","s02","s04","s06","s08","s10"],"range":["#0072BD","#D95319","#EDB120","#7E2F8E","#77AC30","#4DBEEE"]},"legend":{"title":null,"labelExpr":"'Stage ' + toNumber(slice(datum.label, 1))"}},"order":{"field":"stage","type":"ordinal"}}},
{"data":{"values":[{"lab":"A)"}]},"mark":{"type":"text","align":"left","baseline":"middle","fontSize":13,"color":"#1a1a1a"},"encoding":{"x":{"datum":130,"type":"quantitative","title":"time [ps]"},"y":{"datum":-19.1,"type":"quantitative","title":"Fluence [mm⁻²ps⁻¹]"},"text":{"field":"lab"}}}
]},
{"width":247,"height":190,"title":"Interfiber S-D = 10 mm (IRF)","layer":[
{"data":{"name":"Brise"},"transform":[{"fold":["s00","s02","s04","s06","s08","s10"],"as":["stage","lf"]},{"filter":"isValid(datum.lf)"}],"mark":{"type":"point","filled":true,"size":6,"opacity":1},"encoding":{"x":{"field":"t","type":"quantitative","title":"time [ps]","scale":{"domain":[0,6000],"nice":false},"axis":{"values":[0,1000,2000,3000,4000,5000,6000],"format":"d","grid":true}},"y":{"field":"lf","type":"quantitative","title":"Fluence [mm⁻²ps⁻¹]","scale":{"domain":[-20,-5],"nice":false},"axis":{"values":[-20,-15,-10,-5],"grid":true,"labelExpr":"datum.value == -5 ? '10⁻⁵' : datum.value == -10 ? '10⁻¹⁰' : datum.value == -15 ? '10⁻¹⁵' : '10⁻²⁰'"}},"color":{"field":"stage","type":"nominal","scale":{"domain":["s00","s02","s04","s06","s08","s10"],"range":["#0072BD","#D95319","#EDB120","#7E2F8E","#77AC30","#4DBEEE"]},"legend":{"title":null,"labelExpr":"'Stage ' + toNumber(slice(datum.label, 1))"}},"order":{"field":"stage","type":"ordinal"}}},
{"data":{"name":"B"},"transform":[{"fold":["s00","s02","s04","s06","s08","s10"],"as":["stage","lf"]},{"filter":"isValid(datum.lf)"}],"mark":{"type":"line","strokeWidth":2},"encoding":{"x":{"field":"t","type":"quantitative","title":"time [ps]","scale":{"domain":[0,6000],"nice":false}},"y":{"field":"lf","type":"quantitative","title":"Fluence [mm⁻²ps⁻¹]","scale":{"domain":[-20,-5],"nice":false}},"color":{"field":"stage","type":"nominal","scale":{"domain":["s00","s02","s04","s06","s08","s10"],"range":["#0072BD","#D95319","#EDB120","#7E2F8E","#77AC30","#4DBEEE"]}}}},
{"data":{"values":[{"lab":"B)"}]},"mark":{"type":"text","align":"left","baseline":"middle","fontSize":13,"color":"#1a1a1a"},"encoding":{"x":{"datum":130,"type":"quantitative","title":"time [ps]"},"y":{"datum":-19.1,"type":"quantitative","title":"Fluence [mm⁻²ps⁻¹]"},"text":{"field":"lab"}}}
]},
{"width":247,"height":190,"title":"Interfiber S-D = 20 mm","layer":[
{"data":{"name":"C"},"transform":[{"fold":["s00","s02","s04","s06","s08","s10"],"as":["stage","lf"]},{"filter":"isValid(datum.lf)"}],"mark":{"type":"point","filled":true,"size":5,"opacity":1},"encoding":{"x":{"field":"t","type":"quantitative","title":"time [ps]","scale":{"domain":[0,6000],"nice":false},"axis":{"values":[0,1000,2000,3000,4000,5000,6000],"format":"d","grid":true}},"y":{"field":"lf","type":"quantitative","title":"Fluence [mm⁻²ps⁻¹]","scale":{"domain":[-20,-5],"nice":false},"axis":{"values":[-20,-15,-10,-5],"grid":true,"labelExpr":"datum.value == -5 ? '10⁻⁵' : datum.value == -10 ? '10⁻¹⁰' : datum.value == -15 ? '10⁻¹⁵' : '10⁻²⁰'"}},"color":{"field":"stage","type":"nominal","scale":{"domain":["s00","s02","s04","s06","s08","s10"],"range":["#0072BD","#D95319","#EDB120","#7E2F8E","#77AC30","#4DBEEE"]},"legend":{"title":null,"labelExpr":"'Stage ' + toNumber(slice(datum.label, 1))"}},"order":{"field":"stage","type":"ordinal"}}},
{"data":{"values":[{"lab":"C)"}]},"mark":{"type":"text","align":"left","baseline":"middle","fontSize":13,"color":"#1a1a1a"},"encoding":{"x":{"datum":130,"type":"quantitative","title":"time [ps]"},"y":{"datum":-19.1,"type":"quantitative","title":"Fluence [mm⁻²ps⁻¹]"},"text":{"field":"lab"}}}
]},
{"width":247,"height":190,"title":"Interfiber S-D = 20 mm (IRF)","layer":[
{"data":{"name":"Drise"},"transform":[{"fold":["s00","s02","s04","s06","s08","s10"],"as":["stage","lf"]},{"filter":"isValid(datum.lf)"}],"mark":{"type":"point","filled":true,"size":6,"opacity":1},"encoding":{"x":{"field":"t","type":"quantitative","title":"time [ps]","scale":{"domain":[0,6000],"nice":false},"axis":{"values":[0,1000,2000,3000,4000,5000,6000],"format":"d","grid":true}},"y":{"field":"lf","type":"quantitative","title":"Fluence [mm⁻²ps⁻¹]","scale":{"domain":[-20,-5],"nice":false},"axis":{"values":[-20,-15,-10,-5],"grid":true,"labelExpr":"datum.value == -5 ? '10⁻⁵' : datum.value == -10 ? '10⁻¹⁰' : datum.value == -15 ? '10⁻¹⁵' : '10⁻²⁰'"}},"color":{"field":"stage","type":"nominal","scale":{"domain":["s00","s02","s04","s06","s08","s10"],"range":["#0072BD","#D95319","#EDB120","#7E2F8E","#77AC30","#4DBEEE"]},"legend":{"title":null,"labelExpr":"'Stage ' + toNumber(slice(datum.label, 1))"}},"order":{"field":"stage","type":"ordinal"}}},
{"data":{"name":"D"},"transform":[{"fold":["s00","s02","s04","s06","s08","s10"],"as":["stage","lf"]},{"filter":"isValid(datum.lf)"}],"mark":{"type":"line","strokeWidth":2},"encoding":{"x":{"field":"t","type":"quantitative","title":"time [ps]","scale":{"domain":[0,6000],"nice":false}},"y":{"field":"lf","type":"quantitative","title":"Fluence [mm⁻²ps⁻¹]","scale":{"domain":[-20,-5],"nice":false}},"color":{"field":"stage","type":"nominal","scale":{"domain":["s00","s02","s04","s06","s08","s10"],"range":["#0072BD","#D95319","#EDB120","#7E2F8E","#77AC30","#4DBEEE"]}}}},
{"data":{"values":[{"lab":"D)"}]},"mark":{"type":"text","align":"left","baseline":"middle","fontSize":13,"color":"#1a1a1a"},"encoding":{"x":{"datum":130,"type":"quantitative","title":"time [ps]"},"y":{"datum":-19.1,"type":"quantitative","title":"Fluence [mm⁻²ps⁻¹]"},"text":{"field":"lab"}}}
]},
{"width":247,"height":190,"title":"Interfiber S-D = 30 mm","layer":[
{"data":{"name":"E"},"transform":[{"fold":["s00","s02","s04","s06","s08","s10"],"as":["stage","lf"]},{"filter":"isValid(datum.lf)"}],"mark":{"type":"point","filled":true,"size":5,"opacity":1},"encoding":{"x":{"field":"t","type":"quantitative","title":"time [ps]","scale":{"domain":[0,6000],"nice":false},"axis":{"values":[0,1000,2000,3000,4000,5000,6000],"format":"d","grid":true}},"y":{"field":"lf","type":"quantitative","title":"Fluence [mm⁻²ps⁻¹]","scale":{"domain":[-20,-5],"nice":false},"axis":{"values":[-20,-15,-10,-5],"grid":true,"labelExpr":"datum.value == -5 ? '10⁻⁵' : datum.value == -10 ? '10⁻¹⁰' : datum.value == -15 ? '10⁻¹⁵' : '10⁻²⁰'"}},"color":{"field":"stage","type":"nominal","scale":{"domain":["s00","s02","s04","s06","s08","s10"],"range":["#0072BD","#D95319","#EDB120","#7E2F8E","#77AC30","#4DBEEE"]},"legend":{"title":null,"labelExpr":"'Stage ' + toNumber(slice(datum.label, 1))"}},"order":{"field":"stage","type":"ordinal"}}},
{"data":{"values":[{"lab":"E)"}]},"mark":{"type":"text","align":"left","baseline":"middle","fontSize":13,"color":"#1a1a1a"},"encoding":{"x":{"datum":130,"type":"quantitative","title":"time [ps]"},"y":{"datum":-19.1,"type":"quantitative","title":"Fluence [mm⁻²ps⁻¹]"},"text":{"field":"lab"}}}
]},
{"width":247,"height":190,"title":"Interfiber S-D = 30 mm (IRF)","layer":[
{"data":{"name":"Frise"},"transform":[{"fold":["s00","s02","s04","s06","s08","s10"],"as":["stage","lf"]},{"filter":"isValid(datum.lf)"}],"mark":{"type":"point","filled":true,"size":6,"opacity":1},"encoding":{"x":{"field":"t","type":"quantitative","title":"time [ps]","scale":{"domain":[0,6000],"nice":false},"axis":{"values":[0,1000,2000,3000,4000,5000,6000],"format":"d","grid":true}},"y":{"field":"lf","type":"quantitative","title":"Fluence [mm⁻²ps⁻¹]","scale":{"domain":[-20,-5],"nice":false},"axis":{"values":[-20,-15,-10,-5],"grid":true,"labelExpr":"datum.value == -5 ? '10⁻⁵' : datum.value == -10 ? '10⁻¹⁰' : datum.value == -15 ? '10⁻¹⁵' : '10⁻²⁰'"}},"color":{"field":"stage","type":"nominal","scale":{"domain":["s00","s02","s04","s06","s08","s10"],"range":["#0072BD","#D95319","#EDB120","#7E2F8E","#77AC30","#4DBEEE"]},"legend":{"title":null,"labelExpr":"'Stage ' + toNumber(slice(datum.label, 1))"}},"order":{"field":"stage","type":"ordinal"}}},
{"data":{"name":"F"},"transform":[{"fold":["s00","s02","s04","s06","s08","s10"],"as":["stage","lf"]},{"filter":"isValid(datum.lf)"}],"mark":{"type":"line","strokeWidth":2},"encoding":{"x":{"field":"t","type":"quantitative","title":"time [ps]","scale":{"domain":[0,6000],"nice":false}},"y":{"field":"lf","type":"quantitative","title":"Fluence [mm⁻²ps⁻¹]","scale":{"domain":[-20,-5],"nice":false}},"color":{"field":"stage","type":"nominal","scale":{"domain":["s00","s02","s04","s06","s08","s10"],"range":["#0072BD","#D95319","#EDB120","#7E2F8E","#77AC30","#4DBEEE"]}}}},
{"data":{"values":[{"lab":"F)"}]},"mark":{"type":"text","align":"left","baseline":"middle","fontSize":13,"color":"#1a1a1a"},"encoding":{"x":{"datum":130,"type":"quantitative","title":"time [ps]"},"y":{"datum":-19.1,"type":"quantitative","title":"Fluence [mm⁻²ps⁻¹]"},"text":{"field":"lab"}}}
]},
{"width":247,"height":190,"title":"Interfiber S-D = 40 mm","layer":[
{"data":{"name":"G"},"transform":[{"fold":["s00","s02","s04","s06","s08","s10"],"as":["stage","lf"]},{"filter":"isValid(datum.lf)"}],"mark":{"type":"point","filled":true,"size":5,"opacity":1},"encoding":{"x":{"field":"t","type":"quantitative","title":"time [ps]","scale":{"domain":[0,6000],"nice":false},"axis":{"values":[0,1000,2000,3000,4000,5000,6000],"format":"d","grid":true}},"y":{"field":"lf","type":"quantitative","title":"Fluence [mm⁻²ps⁻¹]","scale":{"domain":[-20,-5],"nice":false},"axis":{"values":[-20,-15,-10,-5],"grid":true,"labelExpr":"datum.value == -5 ? '10⁻⁵' : datum.value == -10 ? '10⁻¹⁰' : datum.value == -15 ? '10⁻¹⁵' : '10⁻²⁰'"}},"color":{"field":"stage","type":"nominal","scale":{"domain":["s00","s02","s04","s06","s08","s10"],"range":["#0072BD","#D95319","#EDB120","#7E2F8E","#77AC30","#4DBEEE"]},"legend":{"title":null,"labelExpr":"'Stage ' + toNumber(slice(datum.label, 1))"}},"order":{"field":"stage","type":"ordinal"}}},
{"data":{"values":[{"lab":"G)"}]},"mark":{"type":"text","align":"left","baseline":"middle","fontSize":13,"color":"#1a1a1a"},"encoding":{"x":{"datum":130,"type":"quantitative","title":"time [ps]"},"y":{"datum":-19.1,"type":"quantitative","title":"Fluence [mm⁻²ps⁻¹]"},"text":{"field":"lab"}}}
]},
{"width":247,"height":190,"title":"Interfiber S-D = 40 mm (IRF)","layer":[
{"data":{"name":"Hrise"},"transform":[{"fold":["s00","s02","s04","s06","s08","s10"],"as":["stage","lf"]},{"filter":"isValid(datum.lf)"}],"mark":{"type":"point","filled":true,"size":6,"opacity":1},"encoding":{"x":{"field":"t","type":"quantitative","title":"time [ps]","scale":{"domain":[0,6000],"nice":false},"axis":{"values":[0,1000,2000,3000,4000,5000,6000],"format":"d","grid":true}},"y":{"field":"lf","type":"quantitative","title":"Fluence [mm⁻²ps⁻¹]","scale":{"domain":[-20,-5],"nice":false},"axis":{"values":[-20,-15,-10,-5],"grid":true,"labelExpr":"datum.value == -5 ? '10⁻⁵' : datum.value == -10 ? '10⁻¹⁰' : datum.value == -15 ? '10⁻¹⁵' : '10⁻²⁰'"}},"color":{"field":"stage","type":"nominal","scale":{"domain":["s00","s02","s04","s06","s08","s10"],"range":["#0072BD","#D95319","#EDB120","#7E2F8E","#77AC30","#4DBEEE"]},"legend":{"title":null,"labelExpr":"'Stage ' + toNumber(slice(datum.label, 1))"}},"order":{"field":"stage","type":"ordinal"}}},
{"data":{"name":"H"},"transform":[{"fold":["s00","s02","s04","s06","s08","s10"],"as":["stage","lf"]},{"filter":"isValid(datum.lf)"}],"mark":{"type":"line","strokeWidth":2},"encoding":{"x":{"field":"t","type":"quantitative","title":"time [ps]","scale":{"domain":[0,6000],"nice":false}},"y":{"field":"lf","type":"quantitative","title":"Fluence [mm⁻²ps⁻¹]","scale":{"domain":[-20,-5],"nice":false}},"color":{"field":"stage","type":"nominal","scale":{"domain":["s00","s02","s04","s06","s08","s10"],"range":["#0072BD","#D95319","#EDB120","#7E2F8E","#77AC30","#4DBEEE"]}}}},
{"data":{"values":[{"lab":"H)"}]},"mark":{"type":"text","align":"left","baseline":"middle","fontSize":13,"color":"#1a1a1a"},"encoding":{"x":{"datum":130,"type":"quantitative","title":"time [ps]"},"y":{"datum":-19.1,"type":"quantitative","title":"Fluence [mm⁻²ps⁻¹]"},"text":{"field":"lab"}}}
]}
]
}
